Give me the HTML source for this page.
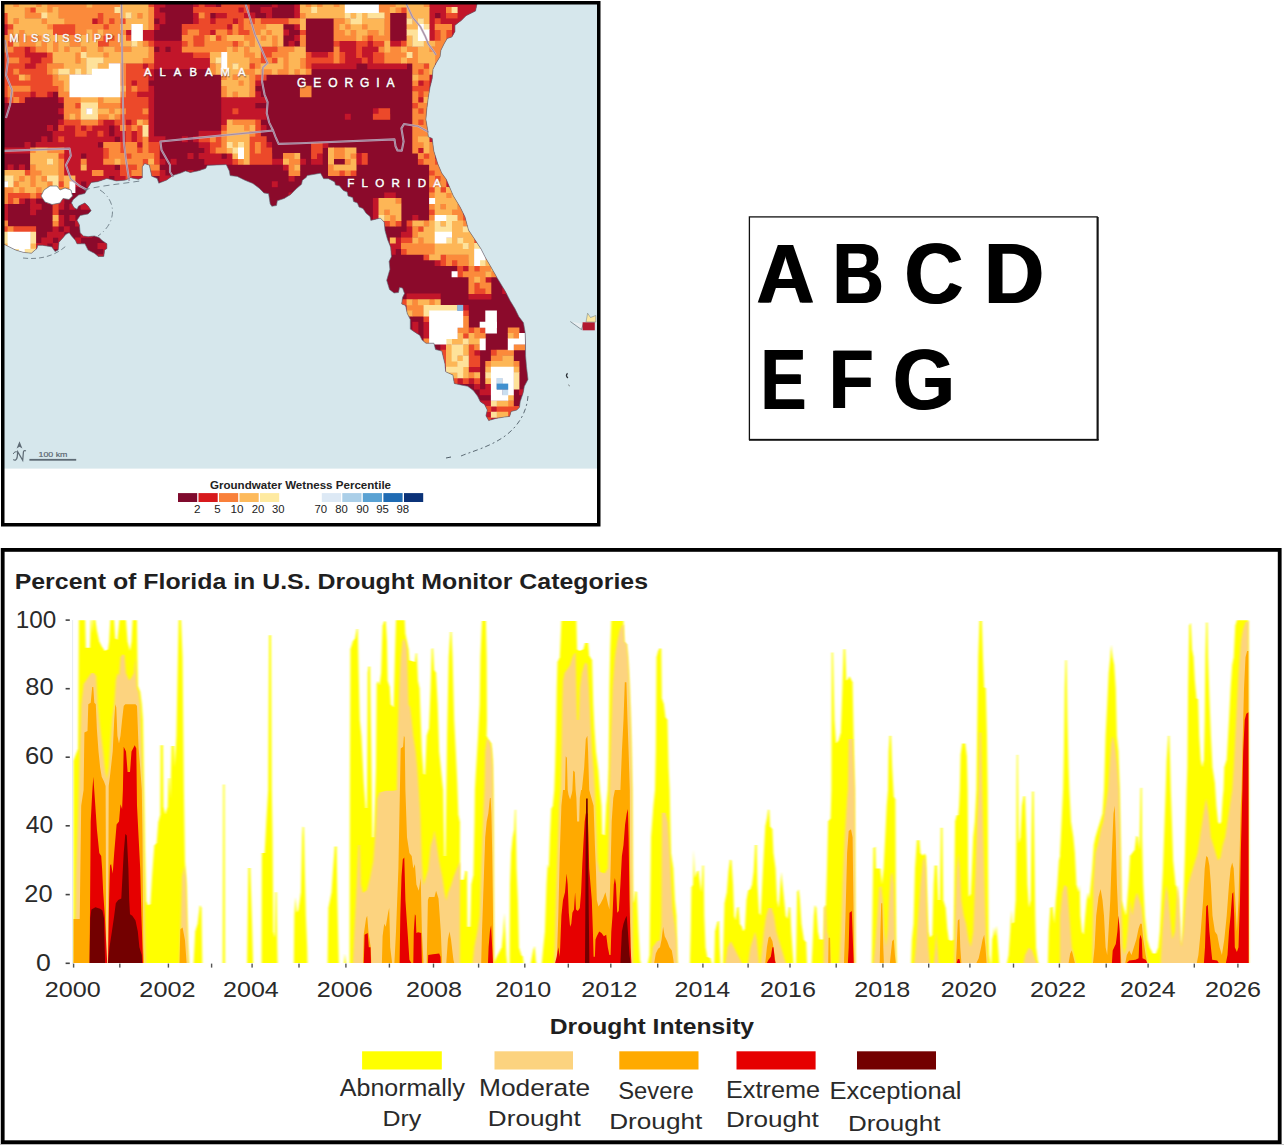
<!DOCTYPE html>
<html><head><meta charset="utf-8"><title>Florida drought</title>
<style>
html,body{margin:0;padding:0;background:#fff;}
body{width:1284px;height:1145px;overflow:hidden;font-family:"Liberation Sans", sans-serif;}
svg{display:block;position:absolute;left:0;top:0;font-family:"Liberation Sans", sans-serif;}
</style></head><body>
<svg width="1284" height="1145" viewBox="0 0 1284 1145">
<rect x="3" y="3" width="595" height="466" fill="#d6e7ec"/>
<rect x="3" y="468.6" width="595" height="56" fill="#fff"/>
<clipPath id="land"><polygon points="3.0,3.0 477.0,4.0 475.5,11.0 466.0,15.7 461.3,20.4 455.0,25.2 455.0,31.4 451.9,36.9 447.2,38.5 444.0,44.0 440.9,50.3 440.1,56.6 436.2,62.9 433.0,69.2 432.2,78.6 429.9,88.0 428.3,97.5 426.7,110.0 425.9,119.5 427.5,128.9 428.3,136.8 432.2,138.4 433.8,150.9 437.7,163.5 441.7,173.0 446.2,179.2 453.3,195.8 460.4,207.5 465.0,217.0 468.5,230.0 474.8,239.4 481.0,248.9 485.8,258.3 490.5,266.2 496.8,277.2 501.5,285.0 506.2,292.9 510.2,300.8 514.9,308.6 518.8,316.5 523.5,322.8 525.1,332.2 525.5,343.2 525.6,355.8 526.5,366.8 528.0,379.4 524.4,386.3 523.0,393.3 520.2,401.7 519.5,407.3 516.7,410.1 511.1,411.5 509.7,416.4 504.1,417.1 495.7,418.5 488.7,420.6 485.9,415.7 487.3,410.1 484.5,404.5 480.3,401.7 477.5,396.1 473.3,390.5 467.7,386.3 460.7,384.9 454.3,383.5 452.9,375.0 446.6,372.2 445.7,371.5 444.9,363.6 441.8,351.1 435.5,349.5 433.9,343.2 426.0,343.2 422.1,340.1 419.7,335.3 415.0,332.2 410.3,329.1 410.3,319.6 407.2,313.3 405.6,305.5 401.7,303.9 402.5,297.6 404.5,293.5 402.5,288.0 399.5,287.5 398.5,292.5 394.0,293.0 389.5,289.5 386.7,280.3 389.9,269.3 389.1,261.4 391.4,256.7 390.7,247.3 387.5,239.4 385.0,230.6 384.2,222.0 380.3,218.1 370.8,220.4 370.0,216.5 366.1,213.3 363.0,208.6 359.0,207.0 357.4,203.1 353.5,201.5 352.7,197.6 348.0,196.0 347.2,192.1 343.3,190.5 339.4,185.8 335.4,185.0 334.7,181.9 328.4,178.7 323.6,178.7 320.5,173.2 307.1,175.6 306.4,177.2 302.4,180.3 301.6,184.2 296.9,188.2 290.6,194.5 284.3,198.4 277.3,200.8 276.5,205.5 271.8,206.3 270.2,203.9 268.6,193.7 263.9,192.9 259.2,188.2 252.9,183.5 245.0,180.3 237.2,176.4 230.1,175.6 229.3,170.9 226.2,164.6 207.3,165.4 205.7,168.5 197.9,170.9 190.3,172.5 185.5,171.0 180.8,173.0 173.0,175.4 169.8,177.7 166.7,180.1 158.8,183.2 157.2,178.5 151.7,176.2 149.4,165.2 144.7,163.6 142.3,166.7 142.3,177.7 138.4,179.3 130.5,177.7 125.8,180.1 116.4,180.9 106.9,178.5 97.5,181.7 91.2,182.5 88.1,187.2 84.9,193.5 78.6,195.0 73.1,199.7 71.5,202.9 73.9,207.6 77.0,209.2 78.6,206.0 84.9,202.9 88.1,206.0 91.2,210.8 88.1,213.9 80.2,215.5 77.0,220.2 79.4,224.9 80.2,232.8 83.3,235.9 88.1,236.7 94.3,235.9 99.1,237.5 102.2,240.6 106.9,243.8 106.9,248.5 104.6,250.1 103.8,256.4 98.3,256.4 94.3,253.2 88.1,250.1 84.9,243.8 77.0,243.8 75.5,240.6 71.5,235.9 69.2,232.8 66.0,234.3 59.0,242.2 58.2,250.1 55.0,251.6 51.9,246.9 42.5,245.3 37.7,245.3 36.9,248.5 31.4,253.2 23.6,252.4 15.7,250.1 9.4,246.9 3.0,243.8"/></clipPath>
<polygon points="3.0,3.0 477.0,4.0 475.5,11.0 466.0,15.7 461.3,20.4 455.0,25.2 455.0,31.4 451.9,36.9 447.2,38.5 444.0,44.0 440.9,50.3 440.1,56.6 436.2,62.9 433.0,69.2 432.2,78.6 429.9,88.0 428.3,97.5 426.7,110.0 425.9,119.5 427.5,128.9 428.3,136.8 432.2,138.4 433.8,150.9 437.7,163.5 441.7,173.0 446.2,179.2 453.3,195.8 460.4,207.5 465.0,217.0 468.5,230.0 474.8,239.4 481.0,248.9 485.8,258.3 490.5,266.2 496.8,277.2 501.5,285.0 506.2,292.9 510.2,300.8 514.9,308.6 518.8,316.5 523.5,322.8 525.1,332.2 525.5,343.2 525.6,355.8 526.5,366.8 528.0,379.4 524.4,386.3 523.0,393.3 520.2,401.7 519.5,407.3 516.7,410.1 511.1,411.5 509.7,416.4 504.1,417.1 495.7,418.5 488.7,420.6 485.9,415.7 487.3,410.1 484.5,404.5 480.3,401.7 477.5,396.1 473.3,390.5 467.7,386.3 460.7,384.9 454.3,383.5 452.9,375.0 446.6,372.2 445.7,371.5 444.9,363.6 441.8,351.1 435.5,349.5 433.9,343.2 426.0,343.2 422.1,340.1 419.7,335.3 415.0,332.2 410.3,329.1 410.3,319.6 407.2,313.3 405.6,305.5 401.7,303.9 402.5,297.6 404.5,293.5 402.5,288.0 399.5,287.5 398.5,292.5 394.0,293.0 389.5,289.5 386.7,280.3 389.9,269.3 389.1,261.4 391.4,256.7 390.7,247.3 387.5,239.4 385.0,230.6 384.2,222.0 380.3,218.1 370.8,220.4 370.0,216.5 366.1,213.3 363.0,208.6 359.0,207.0 357.4,203.1 353.5,201.5 352.7,197.6 348.0,196.0 347.2,192.1 343.3,190.5 339.4,185.8 335.4,185.0 334.7,181.9 328.4,178.7 323.6,178.7 320.5,173.2 307.1,175.6 306.4,177.2 302.4,180.3 301.6,184.2 296.9,188.2 290.6,194.5 284.3,198.4 277.3,200.8 276.5,205.5 271.8,206.3 270.2,203.9 268.6,193.7 263.9,192.9 259.2,188.2 252.9,183.5 245.0,180.3 237.2,176.4 230.1,175.6 229.3,170.9 226.2,164.6 207.3,165.4 205.7,168.5 197.9,170.9 190.3,172.5 185.5,171.0 180.8,173.0 173.0,175.4 169.8,177.7 166.7,180.1 158.8,183.2 157.2,178.5 151.7,176.2 149.4,165.2 144.7,163.6 142.3,166.7 142.3,177.7 138.4,179.3 130.5,177.7 125.8,180.1 116.4,180.9 106.9,178.5 97.5,181.7 91.2,182.5 88.1,187.2 84.9,193.5 78.6,195.0 73.1,199.7 71.5,202.9 73.9,207.6 77.0,209.2 78.6,206.0 84.9,202.9 88.1,206.0 91.2,210.8 88.1,213.9 80.2,215.5 77.0,220.2 79.4,224.9 80.2,232.8 83.3,235.9 88.1,236.7 94.3,235.9 99.1,237.5 102.2,240.6 106.9,243.8 106.9,248.5 104.6,250.1 103.8,256.4 98.3,256.4 94.3,253.2 88.1,250.1 84.9,243.8 77.0,243.8 75.5,240.6 71.5,235.9 69.2,232.8 66.0,234.3 59.0,242.2 58.2,250.1 55.0,251.6 51.9,246.9 42.5,245.3 37.7,245.3 36.9,248.5 31.4,253.2 23.6,252.4 15.7,250.1 9.4,246.9 3.0,243.8" fill="#8b0a2b"/>
<filter id="soft" x="-2%" y="-2%" width="104%" height="104%"><feGaussianBlur stdDeviation="0.55"/></filter>
<g clip-path="url(#land)" filter="url(#soft)">
<path d="M153.7 1.4h11.6v6.0h-11.6zM193.1 1.4h6.0v6.0h-6.0zM204.3 1.4h11.6v6.0h-11.6zM271.8 1.4h6.0v6.0h-6.0zM294.2 1.4h6.0v6.0h-6.0zM429.1 1.4h51.0v6.0h-51.0zM153.7 7.0h6.0v6.0h-6.0zM238.0 7.0h6.0v6.0h-6.0zM260.5 7.0h11.6v6.0h-11.6zM294.2 7.0h6.0v6.0h-6.0zM429.1 7.0h17.3v6.0h-17.3zM457.2 7.0h22.9v6.0h-22.9zM153.7 12.6h11.6v6.0h-11.6zM193.1 12.6h6.0v6.0h-6.0zM215.6 12.6h11.6v6.0h-11.6zM243.7 12.6h11.6v6.0h-11.6zM266.1 12.6h6.0v6.0h-6.0zM294.2 12.6h6.0v6.0h-6.0zM429.1 12.6h6.0v6.0h-6.0zM440.4 12.6h6.0v6.0h-6.0zM457.2 12.6h22.9v6.0h-22.9zM91.9 18.3h6.0v6.0h-6.0zM159.4 18.3h6.0v6.0h-6.0zM193.1 18.3h6.0v6.0h-6.0zM209.9 18.3h6.0v6.0h-6.0zM232.4 18.3h6.0v6.0h-6.0zM429.1 18.3h6.0v6.0h-6.0zM440.4 18.3h39.7v6.0h-39.7zM2.0 23.9h6.0v6.0h-6.0zM153.7 23.9h6.0v6.0h-6.0zM226.8 23.9h6.0v6.0h-6.0zM294.2 23.9h6.0v6.0h-6.0zM429.1 23.9h6.0v6.0h-6.0zM451.6 23.9h28.5v6.0h-28.5zM2.0 29.5h6.0v6.0h-6.0zM125.6 29.5h6.0v6.0h-6.0zM142.5 29.5h11.6v6.0h-11.6zM209.9 29.5h6.0v6.0h-6.0zM283.0 29.5h6.0v6.0h-6.0zM429.1 29.5h6.0v6.0h-6.0zM451.6 29.5h28.5v6.0h-28.5zM142.5 35.1h11.6v6.0h-11.6zM294.2 35.1h6.0v6.0h-6.0zM429.1 35.1h6.0v6.0h-6.0zM451.6 35.1h28.5v6.0h-28.5zM153.7 40.7h28.5v6.0h-28.5zM288.6 40.7h6.0v6.0h-6.0zM339.2 40.7h17.3v6.0h-17.3zM367.3 40.7h6.0v6.0h-6.0zM389.8 40.7h11.6v6.0h-11.6zM24.5 46.4h6.0v6.0h-6.0zM159.4 46.4h6.0v6.0h-6.0zM170.6 46.4h11.6v6.0h-11.6zM339.2 46.4h17.3v6.0h-17.3zM361.7 46.4h17.3v6.0h-17.3zM24.5 52.0h22.9v6.0h-22.9zM153.7 52.0h39.7v6.0h-39.7zM311.1 52.0h17.3v6.0h-17.3zM344.8 52.0h11.6v6.0h-11.6zM361.7 52.0h11.6v6.0h-11.6zM30.1 57.6h11.6v6.0h-11.6zM153.7 57.6h56.6v6.0h-56.6zM344.8 57.6h17.3v6.0h-17.3zM367.3 57.6h6.0v6.0h-6.0zM24.5 63.2h11.6v6.0h-11.6zM142.5 63.2h6.0v6.0h-6.0zM153.7 63.2h56.6v6.0h-56.6zM311.1 63.2h45.4v6.0h-45.4zM367.3 63.2h39.7v6.0h-39.7zM434.7 63.2h6.0v6.0h-6.0zM148.1 68.8h6.0v6.0h-6.0zM434.7 68.8h6.0v6.0h-6.0zM148.1 74.5h6.0v6.0h-6.0zM429.1 74.5h6.0v6.0h-6.0zM131.3 80.1h6.0v6.0h-6.0zM254.9 80.1h6.0v6.0h-6.0zM417.9 80.1h6.0v6.0h-6.0zM429.1 80.1h6.0v6.0h-6.0zM148.1 85.7h6.0v6.0h-6.0zM30.1 91.3h6.0v6.0h-6.0zM47.0 91.3h6.0v6.0h-6.0zM136.9 91.3h17.3v6.0h-17.3zM254.9 91.3h6.0v6.0h-6.0zM429.1 91.3h6.0v6.0h-6.0zM2.0 96.9h6.0v6.0h-6.0zM58.2 96.9h6.0v6.0h-6.0zM148.1 96.9h6.0v6.0h-6.0zM221.2 96.9h45.4v6.0h-45.4zM417.9 96.9h6.0v6.0h-6.0zM429.1 96.9h6.0v6.0h-6.0zM148.1 102.6h6.0v6.0h-6.0zM221.2 102.6h34.1v6.0h-34.1zM58.2 108.2h6.0v6.0h-6.0zM148.1 108.2h6.0v6.0h-6.0zM221.2 108.2h11.6v6.0h-11.6zM238.0 108.2h28.5v6.0h-28.5zM372.9 108.2h6.0v6.0h-6.0zM429.1 108.2h6.0v6.0h-6.0zM148.1 113.8h6.0v6.0h-6.0zM221.2 113.8h45.4v6.0h-45.4zM344.8 113.8h6.0v6.0h-6.0zM429.1 113.8h6.0v6.0h-6.0zM58.2 119.4h6.0v6.0h-6.0zM103.2 119.4h11.6v6.0h-11.6zM125.6 119.4h6.0v6.0h-6.0zM148.1 119.4h6.0v6.0h-6.0zM221.2 119.4h6.0v6.0h-6.0zM429.1 119.4h6.0v6.0h-6.0zM47.0 125.0h6.0v6.0h-6.0zM63.8 125.0h11.6v6.0h-11.6zM80.7 125.0h6.0v6.0h-6.0zM91.9 125.0h17.3v6.0h-17.3zM114.4 125.0h6.0v6.0h-6.0zM148.1 125.0h6.0v6.0h-6.0zM260.5 125.0h6.0v6.0h-6.0zM429.1 125.0h6.0v6.0h-6.0zM52.6 130.7h22.9v6.0h-22.9zM86.3 130.7h11.6v6.0h-11.6zM103.2 130.7h6.0v6.0h-6.0zM114.4 130.7h11.6v6.0h-11.6zM131.3 130.7h6.0v6.0h-6.0zM148.1 130.7h6.0v6.0h-6.0zM198.7 130.7h22.9v6.0h-22.9zM41.3 136.3h6.0v6.0h-6.0zM52.6 136.3h6.0v6.0h-6.0zM63.8 136.3h51.0v6.0h-51.0zM120.0 136.3h6.0v6.0h-6.0zM131.3 136.3h6.0v6.0h-6.0zM148.1 136.3h17.3v6.0h-17.3zM181.8 136.3h6.0v6.0h-6.0zM193.1 136.3h6.0v6.0h-6.0zM429.1 136.3h6.0v6.0h-6.0zM24.5 141.9h6.0v6.0h-6.0zM35.7 141.9h62.2v6.0h-62.2zM136.9 141.9h6.0v6.0h-6.0zM198.7 141.9h11.6v6.0h-11.6zM266.1 141.9h6.0v6.0h-6.0zM322.3 141.9h6.0v6.0h-6.0zM2.0 147.5h28.5v6.0h-28.5zM63.8 147.5h39.7v6.0h-39.7zM204.3 147.5h6.0v6.0h-6.0zM417.9 147.5h6.0v6.0h-6.0zM63.8 153.1h17.3v6.0h-17.3zM86.3 153.1h17.3v6.0h-17.3zM187.5 153.1h6.0v6.0h-6.0zM198.7 153.1h22.9v6.0h-22.9zM226.8 153.1h6.0v6.0h-6.0zM316.7 153.1h6.0v6.0h-6.0zM356.1 153.1h6.0v6.0h-6.0zM434.7 153.1h6.0v6.0h-6.0zM63.8 158.8h17.3v6.0h-17.3zM86.3 158.8h17.3v6.0h-17.3zM159.4 158.8h6.0v6.0h-6.0zM170.6 158.8h6.0v6.0h-6.0zM204.3 158.8h28.5v6.0h-28.5zM271.8 158.8h11.6v6.0h-11.6zM299.9 158.8h6.0v6.0h-6.0zM311.1 158.8h11.6v6.0h-11.6zM356.1 158.8h6.0v6.0h-6.0zM446.0 158.8h6.0v6.0h-6.0zM7.6 164.4h6.0v6.0h-6.0zM18.9 164.4h6.0v6.0h-6.0zM63.8 164.4h17.3v6.0h-17.3zM86.3 164.4h28.5v6.0h-28.5zM283.0 164.4h6.0v6.0h-6.0zM446.0 164.4h6.0v6.0h-6.0zM63.8 170.0h28.5v6.0h-28.5zM103.2 170.0h17.3v6.0h-17.3zM159.4 170.0h6.0v6.0h-6.0zM187.5 170.0h6.0v6.0h-6.0zM198.7 170.0h28.5v6.0h-28.5zM75.1 175.6h34.1v6.0h-34.1zM114.4 175.6h11.6v6.0h-11.6zM131.3 175.6h17.3v6.0h-17.3zM159.4 175.6h45.4v6.0h-45.4zM288.6 175.6h6.0v6.0h-6.0zM446.0 175.6h6.0v6.0h-6.0zM75.1 181.2h6.0v6.0h-6.0zM86.3 181.2h6.0v6.0h-6.0zM103.2 181.2h28.5v6.0h-28.5zM136.9 181.2h6.0v6.0h-6.0zM271.8 181.2h6.0v6.0h-6.0zM446.0 181.2h6.0v6.0h-6.0zM226.8 186.9h17.3v6.0h-17.3zM47.0 192.5h6.0v6.0h-6.0zM288.6 192.5h6.0v6.0h-6.0zM384.2 192.5h11.6v6.0h-11.6zM18.9 198.1h6.0v6.0h-6.0zM30.1 198.1h6.0v6.0h-6.0zM47.0 198.1h17.3v6.0h-17.3zM80.7 198.1h6.0v6.0h-6.0zM91.9 198.1h17.3v6.0h-17.3zM372.9 198.1h6.0v6.0h-6.0zM462.8 198.1h6.0v6.0h-6.0zM2.0 203.7h6.0v6.0h-6.0zM30.1 203.7h11.6v6.0h-11.6zM58.2 203.7h6.0v6.0h-6.0zM69.4 203.7h6.0v6.0h-6.0zM80.7 203.7h11.6v6.0h-11.6zM97.5 203.7h11.6v6.0h-11.6zM372.9 203.7h6.0v6.0h-6.0zM462.8 203.7h6.0v6.0h-6.0zM2.0 209.3h6.0v6.0h-6.0zM30.1 209.3h6.0v6.0h-6.0zM103.2 209.3h6.0v6.0h-6.0zM372.9 209.3h6.0v6.0h-6.0zM462.8 209.3h6.0v6.0h-6.0zM2.0 215.0h6.0v6.0h-6.0zM58.2 215.0h6.0v6.0h-6.0zM69.4 215.0h6.0v6.0h-6.0zM91.9 215.0h6.0v6.0h-6.0zM103.2 215.0h6.0v6.0h-6.0zM372.9 215.0h6.0v6.0h-6.0zM412.3 215.0h6.0v6.0h-6.0zM468.5 215.0h6.0v6.0h-6.0zM58.2 220.6h6.0v6.0h-6.0zM75.1 220.6h17.3v6.0h-17.3zM97.5 220.6h6.0v6.0h-6.0zM372.9 220.6h6.0v6.0h-6.0zM52.6 226.2h6.0v6.0h-6.0zM63.8 226.2h6.0v6.0h-6.0zM97.5 226.2h11.6v6.0h-11.6zM406.6 226.2h6.0v6.0h-6.0zM474.1 226.2h6.0v6.0h-6.0zM47.0 231.8h17.3v6.0h-17.3zM80.7 231.8h11.6v6.0h-11.6zM401.0 231.8h11.6v6.0h-11.6zM479.7 231.8h6.0v6.0h-6.0zM41.3 237.4h11.6v6.0h-11.6zM58.2 237.4h6.0v6.0h-6.0zM75.1 237.4h6.0v6.0h-6.0zM395.4 237.4h6.0v6.0h-6.0zM479.7 237.4h6.0v6.0h-6.0zM490.9 237.4h6.0v6.0h-6.0zM35.7 243.1h11.6v6.0h-11.6zM52.6 243.1h6.0v6.0h-6.0zM75.1 243.1h6.0v6.0h-6.0zM97.5 243.1h11.6v6.0h-11.6zM389.8 243.1h11.6v6.0h-11.6zM35.7 248.7h6.0v6.0h-6.0zM47.0 248.7h6.0v6.0h-6.0zM63.8 248.7h6.0v6.0h-6.0zM80.7 248.7h6.0v6.0h-6.0zM103.2 248.7h6.0v6.0h-6.0zM389.8 248.7h6.0v6.0h-6.0zM496.6 248.7h6.0v6.0h-6.0zM13.2 254.3h17.3v6.0h-17.3zM63.8 254.3h6.0v6.0h-6.0zM80.7 254.3h6.0v6.0h-6.0zM97.5 254.3h6.0v6.0h-6.0zM496.6 254.3h6.0v6.0h-6.0zM434.7 259.9h6.0v6.0h-6.0zM462.8 265.5h6.0v6.0h-6.0zM496.6 265.5h6.0v6.0h-6.0zM485.3 276.8h6.0v6.0h-6.0zM502.2 288.0h6.0v6.0h-6.0zM406.6 293.6h34.1v6.0h-34.1zM468.5 293.6h22.9v6.0h-22.9zM401.0 304.9h6.0v6.0h-6.0zM462.8 304.9h6.0v6.0h-6.0zM401.0 310.5h6.0v6.0h-6.0zM401.0 316.1h6.0v6.0h-6.0zM412.3 321.7h6.0v6.0h-6.0zM423.5 321.7h6.0v6.0h-6.0zM412.3 327.4h6.0v6.0h-6.0zM423.5 327.4h6.0v6.0h-6.0zM401.0 333.0h17.3v6.0h-17.3zM423.5 333.0h6.0v6.0h-6.0zM440.4 344.2h6.0v6.0h-6.0zM474.1 349.8h6.0v6.0h-6.0zM440.4 366.7h6.0v6.0h-6.0zM468.5 366.7h11.6v6.0h-11.6zM440.4 372.3h6.0v6.0h-6.0zM446.0 377.9h6.0v6.0h-6.0zM457.2 377.9h6.0v6.0h-6.0zM468.5 377.9h6.0v6.0h-6.0zM474.1 383.6h6.0v6.0h-6.0zM485.3 383.6h6.0v6.0h-6.0zM479.7 389.2h11.6v6.0h-11.6zM519.0 389.2h6.0v6.0h-6.0zM479.7 400.4h11.6v6.0h-11.6zM479.7 406.0h6.0v6.0h-6.0zM490.9 406.0h6.0v6.0h-6.0zM485.3 411.7h6.0v6.0h-6.0zM513.4 411.7h6.0v6.0h-6.0zM490.9 417.3h6.0v6.0h-6.0zM502.2 417.3h6.0v6.0h-6.0z" fill="#c2142c"/>
<path d="M148.1 1.4h6.0v6.0h-6.0zM198.7 1.4h6.0v6.0h-6.0zM221.2 1.4h28.5v6.0h-28.5zM30.1 7.0h6.0v6.0h-6.0zM193.1 7.0h45.4v6.0h-45.4zM243.7 7.0h6.0v6.0h-6.0zM401.0 7.0h6.0v6.0h-6.0zM2.0 12.6h6.0v6.0h-6.0zM97.5 12.6h6.0v6.0h-6.0zM204.3 12.6h6.0v6.0h-6.0zM226.8 12.6h17.3v6.0h-17.3zM446.0 12.6h11.6v6.0h-11.6zM2.0 18.3h6.0v6.0h-6.0zM97.5 18.3h6.0v6.0h-6.0zM108.8 18.3h6.0v6.0h-6.0zM120.0 18.3h6.0v6.0h-6.0zM198.7 18.3h11.6v6.0h-11.6zM215.6 18.3h17.3v6.0h-17.3zM238.0 18.3h6.0v6.0h-6.0zM249.3 18.3h6.0v6.0h-6.0zM260.5 18.3h28.5v6.0h-28.5zM434.7 18.3h6.0v6.0h-6.0zM7.6 23.9h6.0v6.0h-6.0zM52.6 23.9h22.9v6.0h-22.9zM103.2 23.9h6.0v6.0h-6.0zM181.8 23.9h45.4v6.0h-45.4zM238.0 23.9h6.0v6.0h-6.0zM52.6 29.5h22.9v6.0h-22.9zM181.8 29.5h6.0v6.0h-6.0zM198.7 29.5h11.6v6.0h-11.6zM226.8 29.5h6.0v6.0h-6.0zM238.0 29.5h11.6v6.0h-11.6zM299.9 29.5h6.0v6.0h-6.0zM434.7 29.5h6.0v6.0h-6.0zM446.0 29.5h6.0v6.0h-6.0zM103.2 35.1h11.6v6.0h-11.6zM125.6 35.1h6.0v6.0h-6.0zM193.1 35.1h11.6v6.0h-11.6zM215.6 35.1h6.0v6.0h-6.0zM367.3 35.1h6.0v6.0h-6.0zM434.7 35.1h6.0v6.0h-6.0zM446.0 35.1h6.0v6.0h-6.0zM7.6 40.7h6.0v6.0h-6.0zM97.5 40.7h11.6v6.0h-11.6zM148.1 40.7h6.0v6.0h-6.0zM181.8 40.7h6.0v6.0h-6.0zM193.1 40.7h11.6v6.0h-11.6zM232.4 40.7h6.0v6.0h-6.0zM333.6 40.7h6.0v6.0h-6.0zM356.1 40.7h11.6v6.0h-11.6zM372.9 40.7h11.6v6.0h-11.6zM401.0 40.7h6.0v6.0h-6.0zM457.2 40.7h6.0v6.0h-6.0zM13.2 46.4h11.6v6.0h-11.6zM30.1 46.4h6.0v6.0h-6.0zM260.5 46.4h17.3v6.0h-17.3zM356.1 46.4h6.0v6.0h-6.0zM2.0 52.0h22.9v6.0h-22.9zM47.0 52.0h6.0v6.0h-6.0zM193.1 52.0h17.3v6.0h-17.3zM260.5 52.0h11.6v6.0h-11.6zM305.5 52.0h6.0v6.0h-6.0zM328.0 52.0h6.0v6.0h-6.0zM339.2 52.0h6.0v6.0h-6.0zM356.1 52.0h6.0v6.0h-6.0zM372.9 52.0h11.6v6.0h-11.6zM2.0 57.6h6.0v6.0h-6.0zM18.9 57.6h11.6v6.0h-11.6zM41.3 57.6h11.6v6.0h-11.6zM260.5 57.6h6.0v6.0h-6.0zM271.8 57.6h6.0v6.0h-6.0zM305.5 57.6h28.5v6.0h-28.5zM339.2 57.6h6.0v6.0h-6.0zM361.7 57.6h6.0v6.0h-6.0zM372.9 57.6h11.6v6.0h-11.6zM2.0 63.2h22.9v6.0h-22.9zM35.7 63.2h11.6v6.0h-11.6zM125.6 63.2h17.3v6.0h-17.3zM148.1 63.2h6.0v6.0h-6.0zM249.3 63.2h6.0v6.0h-6.0zM305.5 63.2h6.0v6.0h-6.0zM423.5 63.2h6.0v6.0h-6.0zM2.0 68.8h11.6v6.0h-11.6zM18.9 68.8h28.5v6.0h-28.5zM125.6 68.8h22.9v6.0h-22.9zM417.9 68.8h6.0v6.0h-6.0zM2.0 74.5h17.3v6.0h-17.3zM30.1 74.5h22.9v6.0h-22.9zM125.6 74.5h22.9v6.0h-22.9zM254.9 74.5h11.6v6.0h-11.6zM2.0 80.1h51.0v6.0h-51.0zM125.6 80.1h6.0v6.0h-6.0zM136.9 80.1h11.6v6.0h-11.6zM423.5 80.1h6.0v6.0h-6.0zM2.0 85.7h6.0v6.0h-6.0zM30.1 85.7h28.5v6.0h-28.5zM125.6 85.7h6.0v6.0h-6.0zM136.9 85.7h11.6v6.0h-11.6zM412.3 85.7h17.3v6.0h-17.3zM2.0 91.3h6.0v6.0h-6.0zM13.2 91.3h17.3v6.0h-17.3zM35.7 91.3h11.6v6.0h-11.6zM125.6 91.3h11.6v6.0h-11.6zM417.9 91.3h6.0v6.0h-6.0zM7.6 96.9h6.0v6.0h-6.0zM18.9 96.9h6.0v6.0h-6.0zM120.0 96.9h28.5v6.0h-28.5zM75.1 102.6h6.0v6.0h-6.0zM120.0 102.6h28.5v6.0h-28.5zM412.3 102.6h6.0v6.0h-6.0zM125.6 108.2h17.3v6.0h-17.3zM232.4 108.2h6.0v6.0h-6.0zM378.5 108.2h11.6v6.0h-11.6zM417.9 108.2h6.0v6.0h-6.0zM120.0 113.8h28.5v6.0h-28.5zM372.9 113.8h17.3v6.0h-17.3zM63.8 119.4h17.3v6.0h-17.3zM97.5 119.4h6.0v6.0h-6.0zM114.4 119.4h11.6v6.0h-11.6zM131.3 119.4h6.0v6.0h-6.0zM254.9 119.4h6.0v6.0h-6.0zM417.9 119.4h6.0v6.0h-6.0zM58.2 125.0h6.0v6.0h-6.0zM75.1 125.0h6.0v6.0h-6.0zM86.3 125.0h6.0v6.0h-6.0zM125.6 125.0h6.0v6.0h-6.0zM136.9 125.0h6.0v6.0h-6.0zM221.2 125.0h6.0v6.0h-6.0zM254.9 125.0h6.0v6.0h-6.0zM75.1 130.7h11.6v6.0h-11.6zM97.5 130.7h6.0v6.0h-6.0zM125.6 130.7h6.0v6.0h-6.0zM136.9 130.7h6.0v6.0h-6.0zM254.9 130.7h6.0v6.0h-6.0zM58.2 136.3h6.0v6.0h-6.0zM125.6 136.3h6.0v6.0h-6.0zM136.9 136.3h6.0v6.0h-6.0zM198.7 136.3h11.6v6.0h-11.6zM215.6 136.3h6.0v6.0h-6.0zM249.3 136.3h17.3v6.0h-17.3zM120.0 141.9h6.0v6.0h-6.0zM148.1 141.9h11.6v6.0h-11.6zM209.9 141.9h11.6v6.0h-11.6zM249.3 141.9h6.0v6.0h-6.0zM260.5 141.9h6.0v6.0h-6.0zM311.1 141.9h11.6v6.0h-11.6zM103.2 147.5h6.0v6.0h-6.0zM120.0 147.5h6.0v6.0h-6.0zM136.9 147.5h6.0v6.0h-6.0zM148.1 147.5h11.6v6.0h-11.6zM209.9 147.5h6.0v6.0h-6.0zM249.3 147.5h6.0v6.0h-6.0zM260.5 147.5h11.6v6.0h-11.6zM311.1 147.5h11.6v6.0h-11.6zM58.2 153.1h6.0v6.0h-6.0zM103.2 153.1h6.0v6.0h-6.0zM125.6 153.1h6.0v6.0h-6.0zM153.7 153.1h6.0v6.0h-6.0zM249.3 153.1h22.9v6.0h-22.9zM311.1 153.1h6.0v6.0h-6.0zM361.7 153.1h6.0v6.0h-6.0zM423.5 153.1h6.0v6.0h-6.0zM142.5 158.8h6.0v6.0h-6.0zM153.7 158.8h6.0v6.0h-6.0zM232.4 158.8h6.0v6.0h-6.0zM249.3 158.8h22.9v6.0h-22.9zM361.7 158.8h6.0v6.0h-6.0zM417.9 158.8h6.0v6.0h-6.0zM434.7 158.8h6.0v6.0h-6.0zM120.0 164.4h17.3v6.0h-17.3zM142.5 164.4h6.0v6.0h-6.0zM24.5 170.0h6.0v6.0h-6.0zM120.0 170.0h11.6v6.0h-11.6zM142.5 170.0h17.3v6.0h-17.3zM339.2 170.0h6.0v6.0h-6.0zM350.4 170.0h6.0v6.0h-6.0zM429.1 170.0h6.0v6.0h-6.0zM125.6 175.6h6.0v6.0h-6.0zM434.7 175.6h6.0v6.0h-6.0zM58.2 181.2h6.0v6.0h-6.0zM429.1 186.9h6.0v6.0h-6.0zM440.4 186.9h6.0v6.0h-6.0zM7.6 192.5h22.9v6.0h-22.9zM35.7 192.5h11.6v6.0h-11.6zM7.6 198.1h6.0v6.0h-6.0zM52.6 203.7h6.0v6.0h-6.0zM52.6 209.3h6.0v6.0h-6.0zM429.1 209.3h6.0v6.0h-6.0zM462.8 215.0h6.0v6.0h-6.0zM378.5 220.6h11.6v6.0h-11.6zM395.4 220.6h6.0v6.0h-6.0zM406.6 220.6h6.0v6.0h-6.0zM2.0 226.2h6.0v6.0h-6.0zM13.2 226.2h22.9v6.0h-22.9zM417.9 226.2h6.0v6.0h-6.0zM474.1 231.8h6.0v6.0h-6.0zM401.0 237.4h11.6v6.0h-11.6zM474.1 237.4h6.0v6.0h-6.0zM401.0 248.7h6.0v6.0h-6.0zM423.5 254.3h6.0v6.0h-6.0zM440.4 254.3h6.0v6.0h-6.0zM440.4 259.9h6.0v6.0h-6.0zM451.6 259.9h6.0v6.0h-6.0zM457.2 265.5h6.0v6.0h-6.0zM474.1 265.5h6.0v6.0h-6.0zM457.2 271.2h6.0v6.0h-6.0zM496.6 271.2h6.0v6.0h-6.0zM474.1 282.4h6.0v6.0h-6.0zM474.1 288.0h11.6v6.0h-11.6zM401.0 299.3h6.0v6.0h-6.0zM462.8 310.5h6.0v6.0h-6.0zM423.5 316.1h6.0v6.0h-6.0zM468.5 327.4h6.0v6.0h-6.0zM479.7 327.4h6.0v6.0h-6.0zM462.8 333.0h6.0v6.0h-6.0zM468.5 344.2h6.0v6.0h-6.0zM440.4 349.8h6.0v6.0h-6.0zM468.5 349.8h6.0v6.0h-6.0zM490.9 349.8h6.0v6.0h-6.0zM440.4 355.5h6.0v6.0h-6.0zM468.5 355.5h11.6v6.0h-11.6zM440.4 361.1h6.0v6.0h-6.0zM468.5 361.1h11.6v6.0h-11.6zM451.6 377.9h6.0v6.0h-6.0zM462.8 377.9h6.0v6.0h-6.0zM474.1 377.9h6.0v6.0h-6.0zM485.3 406.0h6.0v6.0h-6.0zM496.6 406.0h22.9v6.0h-22.9zM507.8 411.7h6.0v6.0h-6.0zM485.3 417.3h6.0v6.0h-6.0zM496.6 417.3h6.0v6.0h-6.0zM507.8 417.3h6.0v6.0h-6.0z" fill="#ec4a29"/>
<path d="M13.2 1.4h6.0v6.0h-6.0zM35.7 1.4h6.0v6.0h-6.0zM47.0 1.4h39.7v6.0h-39.7zM91.9 1.4h28.5v6.0h-28.5zM305.5 1.4h6.0v6.0h-6.0zM316.7 1.4h6.0v6.0h-6.0zM333.6 1.4h6.0v6.0h-6.0zM378.5 1.4h17.3v6.0h-17.3zM423.5 1.4h6.0v6.0h-6.0zM24.5 7.0h6.0v6.0h-6.0zM47.0 7.0h6.0v6.0h-6.0zM58.2 7.0h56.6v6.0h-56.6zM148.1 7.0h6.0v6.0h-6.0zM378.5 7.0h11.6v6.0h-11.6zM395.4 7.0h6.0v6.0h-6.0zM446.0 7.0h6.0v6.0h-6.0zM24.5 12.6h17.3v6.0h-17.3zM58.2 12.6h39.7v6.0h-39.7zM103.2 12.6h17.3v6.0h-17.3zM136.9 12.6h6.0v6.0h-6.0zM148.1 12.6h6.0v6.0h-6.0zM198.7 12.6h6.0v6.0h-6.0zM299.9 12.6h6.0v6.0h-6.0zM384.2 12.6h6.0v6.0h-6.0zM13.2 18.3h6.0v6.0h-6.0zM41.3 18.3h6.0v6.0h-6.0zM63.8 18.3h28.5v6.0h-28.5zM103.2 18.3h6.0v6.0h-6.0zM114.4 18.3h6.0v6.0h-6.0zM148.1 18.3h6.0v6.0h-6.0zM243.7 18.3h6.0v6.0h-6.0zM254.9 18.3h6.0v6.0h-6.0zM288.6 18.3h11.6v6.0h-11.6zM333.6 18.3h11.6v6.0h-11.6zM384.2 18.3h6.0v6.0h-6.0zM47.0 23.9h6.0v6.0h-6.0zM75.1 23.9h28.5v6.0h-28.5zM108.8 23.9h11.6v6.0h-11.6zM148.1 23.9h6.0v6.0h-6.0zM232.4 23.9h6.0v6.0h-6.0zM243.7 23.9h22.9v6.0h-22.9zM333.6 23.9h6.0v6.0h-6.0zM344.8 23.9h6.0v6.0h-6.0zM361.7 23.9h6.0v6.0h-6.0zM384.2 23.9h6.0v6.0h-6.0zM434.7 23.9h17.3v6.0h-17.3zM7.6 29.5h6.0v6.0h-6.0zM18.9 29.5h6.0v6.0h-6.0zM75.1 29.5h11.6v6.0h-11.6zM91.9 29.5h6.0v6.0h-6.0zM103.2 29.5h22.9v6.0h-22.9zM187.5 29.5h11.6v6.0h-11.6zM215.6 29.5h11.6v6.0h-11.6zM232.4 29.5h6.0v6.0h-6.0zM249.3 29.5h11.6v6.0h-11.6zM266.1 29.5h6.0v6.0h-6.0zM333.6 29.5h11.6v6.0h-11.6zM350.4 29.5h6.0v6.0h-6.0zM367.3 29.5h11.6v6.0h-11.6zM384.2 29.5h6.0v6.0h-6.0zM440.4 29.5h6.0v6.0h-6.0zM2.0 35.1h39.7v6.0h-39.7zM63.8 35.1h17.3v6.0h-17.3zM91.9 35.1h11.6v6.0h-11.6zM114.4 35.1h6.0v6.0h-6.0zM181.8 35.1h11.6v6.0h-11.6zM204.3 35.1h6.0v6.0h-6.0zM221.2 35.1h6.0v6.0h-6.0zM243.7 35.1h11.6v6.0h-11.6zM260.5 35.1h6.0v6.0h-6.0zM271.8 35.1h6.0v6.0h-6.0zM299.9 35.1h6.0v6.0h-6.0zM333.6 35.1h22.9v6.0h-22.9zM361.7 35.1h6.0v6.0h-6.0zM372.9 35.1h17.3v6.0h-17.3zM440.4 35.1h6.0v6.0h-6.0zM2.0 40.7h6.0v6.0h-6.0zM18.9 40.7h17.3v6.0h-17.3zM41.3 40.7h6.0v6.0h-6.0zM52.6 40.7h6.0v6.0h-6.0zM69.4 40.7h11.6v6.0h-11.6zM108.8 40.7h11.6v6.0h-11.6zM142.5 40.7h6.0v6.0h-6.0zM187.5 40.7h6.0v6.0h-6.0zM204.3 40.7h28.5v6.0h-28.5zM238.0 40.7h6.0v6.0h-6.0zM249.3 40.7h6.0v6.0h-6.0zM271.8 40.7h6.0v6.0h-6.0zM299.9 40.7h6.0v6.0h-6.0zM434.7 40.7h22.9v6.0h-22.9zM462.8 40.7h17.3v6.0h-17.3zM2.0 46.4h11.6v6.0h-11.6zM35.7 46.4h11.6v6.0h-11.6zM52.6 46.4h6.0v6.0h-6.0zM63.8 46.4h6.0v6.0h-6.0zM80.7 46.4h6.0v6.0h-6.0zM97.5 46.4h6.0v6.0h-6.0zM114.4 46.4h17.3v6.0h-17.3zM148.1 46.4h6.0v6.0h-6.0zM181.8 46.4h45.4v6.0h-45.4zM232.4 46.4h6.0v6.0h-6.0zM243.7 46.4h6.0v6.0h-6.0zM277.4 46.4h17.3v6.0h-17.3zM333.6 46.4h6.0v6.0h-6.0zM378.5 46.4h6.0v6.0h-6.0zM389.8 46.4h11.6v6.0h-11.6zM406.6 46.4h11.6v6.0h-11.6zM429.1 46.4h45.4v6.0h-45.4zM75.1 52.0h6.0v6.0h-6.0zM103.2 52.0h6.0v6.0h-6.0zM148.1 52.0h6.0v6.0h-6.0zM243.7 52.0h11.6v6.0h-11.6zM271.8 52.0h17.3v6.0h-17.3zM333.6 52.0h6.0v6.0h-6.0zM384.2 52.0h22.9v6.0h-22.9zM412.3 52.0h6.0v6.0h-6.0zM434.7 52.0h6.0v6.0h-6.0zM446.0 52.0h6.0v6.0h-6.0zM457.2 52.0h6.0v6.0h-6.0zM468.5 52.0h11.6v6.0h-11.6zM7.6 57.6h11.6v6.0h-11.6zM75.1 57.6h6.0v6.0h-6.0zM142.5 57.6h11.6v6.0h-11.6zM249.3 57.6h11.6v6.0h-11.6zM266.1 57.6h6.0v6.0h-6.0zM283.0 57.6h6.0v6.0h-6.0zM299.9 57.6h6.0v6.0h-6.0zM333.6 57.6h6.0v6.0h-6.0zM384.2 57.6h17.3v6.0h-17.3zM406.6 57.6h11.6v6.0h-11.6zM434.7 57.6h45.4v6.0h-45.4zM47.0 63.2h17.3v6.0h-17.3zM120.0 63.2h6.0v6.0h-6.0zM209.9 63.2h6.0v6.0h-6.0zM254.9 63.2h6.0v6.0h-6.0zM283.0 63.2h6.0v6.0h-6.0zM299.9 63.2h6.0v6.0h-6.0zM412.3 63.2h11.6v6.0h-11.6zM13.2 68.8h6.0v6.0h-6.0zM47.0 68.8h6.0v6.0h-6.0zM120.0 68.8h6.0v6.0h-6.0zM209.9 68.8h6.0v6.0h-6.0zM243.7 68.8h11.6v6.0h-11.6zM260.5 68.8h11.6v6.0h-11.6zM277.4 68.8h11.6v6.0h-11.6zM294.2 68.8h6.0v6.0h-6.0zM305.5 68.8h6.0v6.0h-6.0zM412.3 68.8h6.0v6.0h-6.0zM423.5 68.8h6.0v6.0h-6.0zM24.5 74.5h6.0v6.0h-6.0zM52.6 74.5h6.0v6.0h-6.0zM120.0 74.5h6.0v6.0h-6.0zM221.2 74.5h6.0v6.0h-6.0zM232.4 74.5h6.0v6.0h-6.0zM249.3 74.5h6.0v6.0h-6.0zM417.9 74.5h11.6v6.0h-11.6zM52.6 80.1h11.6v6.0h-11.6zM120.0 80.1h6.0v6.0h-6.0zM238.0 80.1h6.0v6.0h-6.0zM249.3 80.1h6.0v6.0h-6.0zM412.3 80.1h6.0v6.0h-6.0zM7.6 85.7h22.9v6.0h-22.9zM58.2 85.7h6.0v6.0h-6.0zM131.3 85.7h6.0v6.0h-6.0zM221.2 85.7h6.0v6.0h-6.0zM249.3 85.7h6.0v6.0h-6.0zM299.9 85.7h11.6v6.0h-11.6zM7.6 91.3h6.0v6.0h-6.0zM58.2 91.3h11.6v6.0h-11.6zM120.0 91.3h6.0v6.0h-6.0zM221.2 91.3h6.0v6.0h-6.0zM232.4 91.3h6.0v6.0h-6.0zM249.3 91.3h6.0v6.0h-6.0zM299.9 91.3h11.6v6.0h-11.6zM412.3 91.3h6.0v6.0h-6.0zM423.5 91.3h6.0v6.0h-6.0zM13.2 96.9h6.0v6.0h-6.0zM63.8 96.9h17.3v6.0h-17.3zM97.5 96.9h6.0v6.0h-6.0zM412.3 96.9h6.0v6.0h-6.0zM63.8 102.6h11.6v6.0h-11.6zM97.5 102.6h22.9v6.0h-22.9zM417.9 102.6h11.6v6.0h-11.6zM63.8 108.2h17.3v6.0h-17.3zM108.8 108.2h6.0v6.0h-6.0zM120.0 108.2h6.0v6.0h-6.0zM142.5 108.2h6.0v6.0h-6.0zM412.3 108.2h6.0v6.0h-6.0zM423.5 108.2h6.0v6.0h-6.0zM63.8 113.8h6.0v6.0h-6.0zM75.1 113.8h6.0v6.0h-6.0zM97.5 113.8h11.6v6.0h-11.6zM114.4 113.8h6.0v6.0h-6.0zM412.3 113.8h17.3v6.0h-17.3zM80.7 119.4h17.3v6.0h-17.3zM142.5 119.4h6.0v6.0h-6.0zM232.4 119.4h22.9v6.0h-22.9zM412.3 119.4h6.0v6.0h-6.0zM423.5 119.4h6.0v6.0h-6.0zM120.0 125.0h6.0v6.0h-6.0zM131.3 125.0h6.0v6.0h-6.0zM243.7 125.0h6.0v6.0h-6.0zM412.3 125.0h17.3v6.0h-17.3zM221.2 130.7h6.0v6.0h-6.0zM249.3 130.7h6.0v6.0h-6.0zM412.3 130.7h17.3v6.0h-17.3zM142.5 136.3h6.0v6.0h-6.0zM209.9 136.3h6.0v6.0h-6.0zM221.2 136.3h6.0v6.0h-6.0zM412.3 136.3h6.0v6.0h-6.0zM103.2 141.9h17.3v6.0h-17.3zM125.6 141.9h11.6v6.0h-11.6zM142.5 141.9h6.0v6.0h-6.0zM221.2 141.9h6.0v6.0h-6.0zM254.9 141.9h6.0v6.0h-6.0zM412.3 141.9h11.6v6.0h-11.6zM429.1 141.9h6.0v6.0h-6.0zM30.1 147.5h6.0v6.0h-6.0zM47.0 147.5h17.3v6.0h-17.3zM108.8 147.5h11.6v6.0h-11.6zM125.6 147.5h11.6v6.0h-11.6zM142.5 147.5h6.0v6.0h-6.0zM215.6 147.5h11.6v6.0h-11.6zM254.9 147.5h6.0v6.0h-6.0zM333.6 147.5h11.6v6.0h-11.6zM412.3 147.5h6.0v6.0h-6.0zM429.1 147.5h6.0v6.0h-6.0zM108.8 153.1h17.3v6.0h-17.3zM131.3 153.1h22.9v6.0h-22.9zM283.0 153.1h11.6v6.0h-11.6zM333.6 153.1h11.6v6.0h-11.6zM350.4 153.1h6.0v6.0h-6.0zM417.9 153.1h6.0v6.0h-6.0zM429.1 153.1h6.0v6.0h-6.0zM440.4 153.1h6.0v6.0h-6.0zM58.2 158.8h6.0v6.0h-6.0zM80.7 158.8h6.0v6.0h-6.0zM103.2 158.8h11.6v6.0h-11.6zM120.0 158.8h22.9v6.0h-22.9zM238.0 158.8h6.0v6.0h-6.0zM288.6 158.8h11.6v6.0h-11.6zM344.8 158.8h6.0v6.0h-6.0zM423.5 158.8h11.6v6.0h-11.6zM440.4 158.8h6.0v6.0h-6.0zM30.1 164.4h6.0v6.0h-6.0zM58.2 164.4h6.0v6.0h-6.0zM136.9 164.4h6.0v6.0h-6.0zM148.1 164.4h11.6v6.0h-11.6zM288.6 164.4h6.0v6.0h-6.0zM328.0 164.4h6.0v6.0h-6.0zM429.1 164.4h17.3v6.0h-17.3zM30.1 170.0h11.6v6.0h-11.6zM58.2 170.0h6.0v6.0h-6.0zM91.9 170.0h11.6v6.0h-11.6zM131.3 170.0h11.6v6.0h-11.6zM288.6 170.0h11.6v6.0h-11.6zM328.0 170.0h11.6v6.0h-11.6zM344.8 170.0h6.0v6.0h-6.0zM434.7 170.0h11.6v6.0h-11.6zM18.9 175.6h6.0v6.0h-6.0zM30.1 175.6h6.0v6.0h-6.0zM41.3 175.6h6.0v6.0h-6.0zM58.2 175.6h6.0v6.0h-6.0zM429.1 175.6h6.0v6.0h-6.0zM440.4 175.6h6.0v6.0h-6.0zM13.2 181.2h6.0v6.0h-6.0zM30.1 181.2h6.0v6.0h-6.0zM47.0 181.2h6.0v6.0h-6.0zM429.1 181.2h17.3v6.0h-17.3zM2.0 186.9h11.6v6.0h-11.6zM18.9 186.9h6.0v6.0h-6.0zM35.7 186.9h6.0v6.0h-6.0zM47.0 186.9h22.9v6.0h-22.9zM2.0 192.5h6.0v6.0h-6.0zM30.1 192.5h6.0v6.0h-6.0zM429.1 192.5h6.0v6.0h-6.0zM446.0 192.5h6.0v6.0h-6.0zM457.2 192.5h6.0v6.0h-6.0zM2.0 198.1h6.0v6.0h-6.0zM13.2 198.1h6.0v6.0h-6.0zM395.4 198.1h6.0v6.0h-6.0zM429.1 203.7h6.0v6.0h-6.0zM440.4 203.7h6.0v6.0h-6.0zM457.2 203.7h6.0v6.0h-6.0zM384.2 209.3h6.0v6.0h-6.0zM451.6 209.3h11.6v6.0h-11.6zM389.8 215.0h6.0v6.0h-6.0zM429.1 215.0h6.0v6.0h-6.0zM457.2 215.0h6.0v6.0h-6.0zM2.0 220.6h6.0v6.0h-6.0zM52.6 220.6h6.0v6.0h-6.0zM389.8 220.6h6.0v6.0h-6.0zM423.5 220.6h6.0v6.0h-6.0zM462.8 220.6h11.6v6.0h-11.6zM7.6 226.2h6.0v6.0h-6.0zM412.3 226.2h6.0v6.0h-6.0zM412.3 231.8h6.0v6.0h-6.0zM417.9 237.4h6.0v6.0h-6.0zM401.0 243.1h34.1v6.0h-34.1zM406.6 248.7h28.5v6.0h-28.5zM446.0 254.3h22.9v6.0h-22.9zM485.3 254.3h6.0v6.0h-6.0zM446.0 259.9h6.0v6.0h-6.0zM457.2 259.9h11.6v6.0h-11.6zM468.5 265.5h6.0v6.0h-6.0zM479.7 265.5h11.6v6.0h-11.6zM462.8 271.2h22.9v6.0h-22.9zM490.9 271.2h6.0v6.0h-6.0zM468.5 276.8h6.0v6.0h-6.0zM479.7 276.8h6.0v6.0h-6.0zM468.5 282.4h6.0v6.0h-6.0zM479.7 282.4h11.6v6.0h-11.6zM468.5 288.0h6.0v6.0h-6.0zM485.3 288.0h6.0v6.0h-6.0zM412.3 299.3h6.0v6.0h-6.0zM429.1 299.3h6.0v6.0h-6.0zM406.6 304.9h17.3v6.0h-17.3zM412.3 310.5h11.6v6.0h-11.6zM462.8 316.1h6.0v6.0h-6.0zM462.8 321.7h6.0v6.0h-6.0zM457.2 327.4h11.6v6.0h-11.6zM474.1 327.4h6.0v6.0h-6.0zM507.8 327.4h11.6v6.0h-11.6zM474.1 333.0h11.6v6.0h-11.6zM513.4 333.0h6.0v6.0h-6.0zM423.5 338.6h6.0v6.0h-6.0zM474.1 344.2h6.0v6.0h-6.0zM513.4 344.2h11.6v6.0h-11.6zM496.6 349.8h17.3v6.0h-17.3zM490.9 355.5h11.6v6.0h-11.6zM485.3 361.1h6.0v6.0h-6.0zM513.4 361.1h6.0v6.0h-6.0zM468.5 372.3h6.0v6.0h-6.0zM507.8 400.4h6.0v6.0h-6.0z" fill="#fb8a3a"/>
<path d="M2.0 1.4h11.6v6.0h-11.6zM18.9 1.4h17.3v6.0h-17.3zM41.3 1.4h6.0v6.0h-6.0zM86.3 1.4h6.0v6.0h-6.0zM120.0 1.4h28.5v6.0h-28.5zM299.9 1.4h6.0v6.0h-6.0zM311.1 1.4h6.0v6.0h-6.0zM322.3 1.4h11.6v6.0h-11.6zM339.2 1.4h6.0v6.0h-6.0zM395.4 1.4h28.5v6.0h-28.5zM2.0 7.0h22.9v6.0h-22.9zM35.7 7.0h11.6v6.0h-11.6zM52.6 7.0h6.0v6.0h-6.0zM120.0 7.0h28.5v6.0h-28.5zM299.9 7.0h11.6v6.0h-11.6zM316.7 7.0h28.5v6.0h-28.5zM389.8 7.0h6.0v6.0h-6.0zM406.6 7.0h22.9v6.0h-22.9zM7.6 12.6h17.3v6.0h-17.3zM47.0 12.6h11.6v6.0h-11.6zM120.0 12.6h6.0v6.0h-6.0zM131.3 12.6h6.0v6.0h-6.0zM142.5 12.6h6.0v6.0h-6.0zM305.5 12.6h39.7v6.0h-39.7zM350.4 12.6h6.0v6.0h-6.0zM361.7 12.6h6.0v6.0h-6.0zM406.6 12.6h22.9v6.0h-22.9zM7.6 18.3h6.0v6.0h-6.0zM18.9 18.3h22.9v6.0h-22.9zM47.0 18.3h17.3v6.0h-17.3zM125.6 18.3h22.9v6.0h-22.9zM299.9 18.3h6.0v6.0h-6.0zM344.8 18.3h6.0v6.0h-6.0zM361.7 18.3h22.9v6.0h-22.9zM412.3 18.3h6.0v6.0h-6.0zM423.5 18.3h6.0v6.0h-6.0zM13.2 23.9h34.1v6.0h-34.1zM120.0 23.9h11.6v6.0h-11.6zM142.5 23.9h6.0v6.0h-6.0zM266.1 23.9h17.3v6.0h-17.3zM299.9 23.9h6.0v6.0h-6.0zM339.2 23.9h6.0v6.0h-6.0zM350.4 23.9h11.6v6.0h-11.6zM367.3 23.9h17.3v6.0h-17.3zM406.6 23.9h11.6v6.0h-11.6zM13.2 29.5h6.0v6.0h-6.0zM24.5 29.5h28.5v6.0h-28.5zM86.3 29.5h6.0v6.0h-6.0zM97.5 29.5h6.0v6.0h-6.0zM260.5 29.5h6.0v6.0h-6.0zM271.8 29.5h11.6v6.0h-11.6zM344.8 29.5h6.0v6.0h-6.0zM356.1 29.5h11.6v6.0h-11.6zM378.5 29.5h6.0v6.0h-6.0zM41.3 35.1h22.9v6.0h-22.9zM80.7 35.1h11.6v6.0h-11.6zM120.0 35.1h6.0v6.0h-6.0zM209.9 35.1h6.0v6.0h-6.0zM226.8 35.1h17.3v6.0h-17.3zM254.9 35.1h6.0v6.0h-6.0zM266.1 35.1h6.0v6.0h-6.0zM277.4 35.1h6.0v6.0h-6.0zM356.1 35.1h6.0v6.0h-6.0zM406.6 35.1h6.0v6.0h-6.0zM13.2 40.7h6.0v6.0h-6.0zM35.7 40.7h6.0v6.0h-6.0zM47.0 40.7h6.0v6.0h-6.0zM58.2 40.7h11.6v6.0h-11.6zM80.7 40.7h17.3v6.0h-17.3zM120.0 40.7h11.6v6.0h-11.6zM136.9 40.7h6.0v6.0h-6.0zM243.7 40.7h6.0v6.0h-6.0zM254.9 40.7h17.3v6.0h-17.3zM277.4 40.7h6.0v6.0h-6.0zM384.2 40.7h6.0v6.0h-6.0zM406.6 40.7h6.0v6.0h-6.0zM423.5 40.7h11.6v6.0h-11.6zM47.0 46.4h6.0v6.0h-6.0zM58.2 46.4h6.0v6.0h-6.0zM69.4 46.4h11.6v6.0h-11.6zM86.3 46.4h11.6v6.0h-11.6zM103.2 46.4h11.6v6.0h-11.6zM131.3 46.4h17.3v6.0h-17.3zM226.8 46.4h6.0v6.0h-6.0zM238.0 46.4h6.0v6.0h-6.0zM249.3 46.4h11.6v6.0h-11.6zM294.2 46.4h11.6v6.0h-11.6zM384.2 46.4h6.0v6.0h-6.0zM401.0 46.4h6.0v6.0h-6.0zM417.9 46.4h11.6v6.0h-11.6zM474.1 46.4h6.0v6.0h-6.0zM52.6 52.0h22.9v6.0h-22.9zM86.3 52.0h17.3v6.0h-17.3zM108.8 52.0h39.7v6.0h-39.7zM209.9 52.0h11.6v6.0h-11.6zM226.8 52.0h17.3v6.0h-17.3zM254.9 52.0h6.0v6.0h-6.0zM288.6 52.0h17.3v6.0h-17.3zM417.9 52.0h17.3v6.0h-17.3zM440.4 52.0h6.0v6.0h-6.0zM451.6 52.0h6.0v6.0h-6.0zM462.8 52.0h6.0v6.0h-6.0zM52.6 57.6h22.9v6.0h-22.9zM80.7 57.6h6.0v6.0h-6.0zM103.2 57.6h39.7v6.0h-39.7zM209.9 57.6h6.0v6.0h-6.0zM226.8 57.6h22.9v6.0h-22.9zM277.4 57.6h6.0v6.0h-6.0zM288.6 57.6h11.6v6.0h-11.6zM401.0 57.6h6.0v6.0h-6.0zM417.9 57.6h17.3v6.0h-17.3zM63.8 63.2h22.9v6.0h-22.9zM97.5 63.2h11.6v6.0h-11.6zM215.6 63.2h6.0v6.0h-6.0zM226.8 63.2h6.0v6.0h-6.0zM238.0 63.2h11.6v6.0h-11.6zM260.5 63.2h22.9v6.0h-22.9zM288.6 63.2h11.6v6.0h-11.6zM429.1 63.2h6.0v6.0h-6.0zM52.6 68.8h6.0v6.0h-6.0zM69.4 68.8h6.0v6.0h-6.0zM80.7 68.8h6.0v6.0h-6.0zM215.6 68.8h28.5v6.0h-28.5zM254.9 68.8h6.0v6.0h-6.0zM271.8 68.8h6.0v6.0h-6.0zM288.6 68.8h6.0v6.0h-6.0zM299.9 68.8h6.0v6.0h-6.0zM429.1 68.8h6.0v6.0h-6.0zM18.9 74.5h6.0v6.0h-6.0zM58.2 74.5h11.6v6.0h-11.6zM226.8 74.5h6.0v6.0h-6.0zM238.0 74.5h11.6v6.0h-11.6zM412.3 74.5h6.0v6.0h-6.0zM63.8 80.1h6.0v6.0h-6.0zM221.2 80.1h17.3v6.0h-17.3zM243.7 80.1h6.0v6.0h-6.0zM63.8 85.7h6.0v6.0h-6.0zM120.0 85.7h6.0v6.0h-6.0zM226.8 85.7h22.9v6.0h-22.9zM226.8 91.3h6.0v6.0h-6.0zM238.0 91.3h11.6v6.0h-11.6zM80.7 96.9h17.3v6.0h-17.3zM103.2 96.9h17.3v6.0h-17.3zM423.5 96.9h6.0v6.0h-6.0zM97.5 108.2h11.6v6.0h-11.6zM114.4 108.2h6.0v6.0h-6.0zM69.4 113.8h6.0v6.0h-6.0zM108.8 113.8h6.0v6.0h-6.0zM136.9 119.4h6.0v6.0h-6.0zM226.8 119.4h6.0v6.0h-6.0zM226.8 125.0h17.3v6.0h-17.3zM249.3 125.0h6.0v6.0h-6.0zM226.8 130.7h22.9v6.0h-22.9zM429.1 130.7h6.0v6.0h-6.0zM226.8 136.3h22.9v6.0h-22.9zM417.9 136.3h11.6v6.0h-11.6zM232.4 141.9h6.0v6.0h-6.0zM243.7 141.9h6.0v6.0h-6.0zM423.5 141.9h6.0v6.0h-6.0zM35.7 147.5h11.6v6.0h-11.6zM226.8 147.5h6.0v6.0h-6.0zM243.7 147.5h6.0v6.0h-6.0zM328.0 147.5h6.0v6.0h-6.0zM344.8 147.5h11.6v6.0h-11.6zM423.5 147.5h6.0v6.0h-6.0zM30.1 153.1h28.5v6.0h-28.5zM232.4 153.1h6.0v6.0h-6.0zM243.7 153.1h6.0v6.0h-6.0zM294.2 153.1h6.0v6.0h-6.0zM328.0 153.1h6.0v6.0h-6.0zM344.8 153.1h6.0v6.0h-6.0zM30.1 158.8h17.3v6.0h-17.3zM52.6 158.8h6.0v6.0h-6.0zM114.4 158.8h6.0v6.0h-6.0zM148.1 158.8h6.0v6.0h-6.0zM243.7 158.8h6.0v6.0h-6.0zM283.0 158.8h6.0v6.0h-6.0zM328.0 158.8h6.0v6.0h-6.0zM350.4 158.8h6.0v6.0h-6.0zM35.7 164.4h22.9v6.0h-22.9zM80.7 164.4h6.0v6.0h-6.0zM294.2 164.4h6.0v6.0h-6.0zM333.6 164.4h22.9v6.0h-22.9zM2.0 170.0h22.9v6.0h-22.9zM41.3 170.0h17.3v6.0h-17.3zM13.2 175.6h6.0v6.0h-6.0zM24.5 175.6h6.0v6.0h-6.0zM35.7 175.6h6.0v6.0h-6.0zM63.8 175.6h11.6v6.0h-11.6zM18.9 181.2h11.6v6.0h-11.6zM35.7 181.2h11.6v6.0h-11.6zM63.8 181.2h6.0v6.0h-6.0zM13.2 186.9h6.0v6.0h-6.0zM24.5 186.9h11.6v6.0h-11.6zM41.3 186.9h6.0v6.0h-6.0zM434.7 186.9h6.0v6.0h-6.0zM446.0 186.9h17.3v6.0h-17.3zM434.7 192.5h11.6v6.0h-11.6zM451.6 192.5h6.0v6.0h-6.0zM378.5 198.1h17.3v6.0h-17.3zM434.7 198.1h28.5v6.0h-28.5zM378.5 203.7h22.9v6.0h-22.9zM434.7 203.7h6.0v6.0h-6.0zM446.0 203.7h11.6v6.0h-11.6zM378.5 209.3h6.0v6.0h-6.0zM389.8 209.3h11.6v6.0h-11.6zM434.7 209.3h17.3v6.0h-17.3zM52.6 215.0h6.0v6.0h-6.0zM384.2 215.0h6.0v6.0h-6.0zM395.4 215.0h6.0v6.0h-6.0zM412.3 220.6h11.6v6.0h-11.6zM429.1 220.6h6.0v6.0h-6.0zM440.4 220.6h6.0v6.0h-6.0zM451.6 220.6h11.6v6.0h-11.6zM423.5 226.2h11.6v6.0h-11.6zM451.6 226.2h11.6v6.0h-11.6zM468.5 226.2h6.0v6.0h-6.0zM417.9 231.8h17.3v6.0h-17.3zM451.6 231.8h22.9v6.0h-22.9zM389.8 237.4h6.0v6.0h-6.0zM412.3 237.4h6.0v6.0h-6.0zM423.5 237.4h11.6v6.0h-11.6zM451.6 237.4h6.0v6.0h-6.0zM462.8 237.4h11.6v6.0h-11.6zM2.0 243.1h6.0v6.0h-6.0zM30.1 243.1h6.0v6.0h-6.0zM434.7 243.1h28.5v6.0h-28.5zM468.5 243.1h6.0v6.0h-6.0zM485.3 243.1h11.6v6.0h-11.6zM2.0 248.7h6.0v6.0h-6.0zM434.7 248.7h39.7v6.0h-39.7zM485.3 248.7h11.6v6.0h-11.6zM429.1 254.3h11.6v6.0h-11.6zM468.5 254.3h6.0v6.0h-6.0zM490.9 254.3h6.0v6.0h-6.0zM468.5 259.9h6.0v6.0h-6.0zM485.3 259.9h11.6v6.0h-11.6zM490.9 265.5h6.0v6.0h-6.0zM485.3 271.2h6.0v6.0h-6.0zM474.1 276.8h6.0v6.0h-6.0zM406.6 299.3h6.0v6.0h-6.0zM417.9 299.3h11.6v6.0h-11.6zM434.7 299.3h6.0v6.0h-6.0zM406.6 310.5h6.0v6.0h-6.0zM457.2 333.0h6.0v6.0h-6.0zM468.5 333.0h6.0v6.0h-6.0zM507.8 333.0h6.0v6.0h-6.0zM451.6 338.6h11.6v6.0h-11.6zM468.5 338.6h11.6v6.0h-11.6zM446.0 344.2h6.0v6.0h-6.0zM462.8 344.2h6.0v6.0h-6.0zM446.0 349.8h6.0v6.0h-6.0zM462.8 349.8h6.0v6.0h-6.0zM446.0 355.5h6.0v6.0h-6.0zM457.2 355.5h6.0v6.0h-6.0zM502.2 355.5h11.6v6.0h-11.6zM446.0 361.1h11.6v6.0h-11.6zM490.9 361.1h22.9v6.0h-22.9zM462.8 366.7h6.0v6.0h-6.0zM485.3 366.7h6.0v6.0h-6.0zM513.4 366.7h6.0v6.0h-6.0zM446.0 372.3h11.6v6.0h-11.6zM462.8 372.3h6.0v6.0h-6.0zM474.1 372.3h6.0v6.0h-6.0zM485.3 377.9h6.0v6.0h-6.0zM507.8 394.8h6.0v6.0h-6.0zM496.6 400.4h11.6v6.0h-11.6zM496.6 411.7h11.6v6.0h-11.6z" fill="#fdb657"/>
<path d="M114.4 7.0h6.0v6.0h-6.0zM311.1 7.0h6.0v6.0h-6.0zM451.6 7.0h6.0v6.0h-6.0zM41.3 12.6h6.0v6.0h-6.0zM125.6 12.6h6.0v6.0h-6.0zM344.8 12.6h6.0v6.0h-6.0zM356.1 12.6h6.0v6.0h-6.0zM367.3 12.6h17.3v6.0h-17.3zM350.4 18.3h11.6v6.0h-11.6zM406.6 18.3h6.0v6.0h-6.0zM417.9 18.3h6.0v6.0h-6.0zM423.5 23.9h6.0v6.0h-6.0zM406.6 29.5h11.6v6.0h-11.6zM412.3 35.1h6.0v6.0h-6.0zM131.3 40.7h6.0v6.0h-6.0zM412.3 40.7h11.6v6.0h-11.6zM80.7 52.0h6.0v6.0h-6.0zM406.6 52.0h6.0v6.0h-6.0zM86.3 57.6h17.3v6.0h-17.3zM215.6 57.6h6.0v6.0h-6.0zM86.3 63.2h11.6v6.0h-11.6zM232.4 63.2h6.0v6.0h-6.0zM58.2 68.8h11.6v6.0h-11.6zM75.1 68.8h6.0v6.0h-6.0zM86.3 68.8h6.0v6.0h-6.0zM80.7 102.6h17.3v6.0h-17.3zM80.7 108.2h6.0v6.0h-6.0zM91.9 108.2h6.0v6.0h-6.0zM80.7 113.8h17.3v6.0h-17.3zM142.5 125.0h6.0v6.0h-6.0zM142.5 130.7h6.0v6.0h-6.0zM226.8 141.9h6.0v6.0h-6.0zM238.0 141.9h6.0v6.0h-6.0zM232.4 147.5h6.0v6.0h-6.0zM47.0 158.8h6.0v6.0h-6.0zM2.0 175.6h11.6v6.0h-11.6zM47.0 175.6h11.6v6.0h-11.6zM7.6 181.2h6.0v6.0h-6.0zM52.6 181.2h6.0v6.0h-6.0zM378.5 215.0h6.0v6.0h-6.0zM446.0 215.0h11.6v6.0h-11.6zM434.7 220.6h6.0v6.0h-6.0zM446.0 220.6h6.0v6.0h-6.0zM434.7 226.2h17.3v6.0h-17.3zM462.8 226.2h6.0v6.0h-6.0zM2.0 231.8h6.0v6.0h-6.0zM30.1 231.8h6.0v6.0h-6.0zM2.0 237.4h6.0v6.0h-6.0zM30.1 237.4h6.0v6.0h-6.0zM446.0 237.4h6.0v6.0h-6.0zM457.2 237.4h6.0v6.0h-6.0zM462.8 243.1h6.0v6.0h-6.0zM474.1 243.1h11.6v6.0h-11.6zM7.6 248.7h11.6v6.0h-11.6zM24.5 248.7h11.6v6.0h-11.6zM479.7 259.9h6.0v6.0h-6.0zM423.5 304.9h34.1v6.0h-34.1zM423.5 310.5h6.0v6.0h-6.0zM446.0 338.6h6.0v6.0h-6.0zM462.8 338.6h6.0v6.0h-6.0zM451.6 344.2h11.6v6.0h-11.6zM451.6 349.8h11.6v6.0h-11.6zM451.6 355.5h6.0v6.0h-6.0zM462.8 355.5h6.0v6.0h-6.0zM457.2 361.1h11.6v6.0h-11.6zM446.0 366.7h17.3v6.0h-17.3zM457.2 372.3h6.0v6.0h-6.0zM485.3 372.3h6.0v6.0h-6.0zM513.4 372.3h6.0v6.0h-6.0zM513.4 377.9h6.0v6.0h-6.0zM513.4 383.6h6.0v6.0h-6.0zM490.9 400.4h6.0v6.0h-6.0zM490.9 411.7h6.0v6.0h-6.0z" fill="#fee29a"/>
<path d="M344.8 1.4h34.1v6.0h-34.1zM344.8 7.0h34.1v6.0h-34.1zM131.3 23.9h11.6v6.0h-11.6zM417.9 23.9h6.0v6.0h-6.0zM131.3 29.5h11.6v6.0h-11.6zM417.9 29.5h11.6v6.0h-11.6zM131.3 35.1h11.6v6.0h-11.6zM417.9 35.1h11.6v6.0h-11.6zM221.2 52.0h6.0v6.0h-6.0zM221.2 57.6h6.0v6.0h-6.0zM108.8 63.2h11.6v6.0h-11.6zM221.2 63.2h6.0v6.0h-6.0zM91.9 68.8h28.5v6.0h-28.5zM69.4 74.5h51.0v6.0h-51.0zM69.4 80.1h51.0v6.0h-51.0zM69.4 85.7h51.0v6.0h-51.0zM69.4 91.3h51.0v6.0h-51.0zM86.3 108.2h6.0v6.0h-6.0zM238.0 147.5h6.0v6.0h-6.0zM238.0 153.1h6.0v6.0h-6.0zM2.0 181.2h6.0v6.0h-6.0zM69.4 181.2h6.0v6.0h-6.0zM69.4 186.9h6.0v6.0h-6.0zM429.1 198.1h6.0v6.0h-6.0zM434.7 215.0h11.6v6.0h-11.6zM7.6 231.8h22.9v6.0h-22.9zM434.7 231.8h17.3v6.0h-17.3zM7.6 237.4h22.9v6.0h-22.9zM434.7 237.4h11.6v6.0h-11.6zM7.6 243.1h22.9v6.0h-22.9zM18.9 248.7h6.0v6.0h-6.0zM474.1 248.7h11.6v6.0h-11.6zM474.1 254.3h11.6v6.0h-11.6zM474.1 259.9h6.0v6.0h-6.0zM451.6 271.2h6.0v6.0h-6.0zM429.1 310.5h34.1v6.0h-34.1zM485.3 310.5h11.6v6.0h-11.6zM429.1 316.1h34.1v6.0h-34.1zM485.3 316.1h11.6v6.0h-11.6zM429.1 321.7h34.1v6.0h-34.1zM479.7 321.7h17.3v6.0h-17.3zM429.1 327.4h28.5v6.0h-28.5zM485.3 327.4h11.6v6.0h-11.6zM429.1 333.0h28.5v6.0h-28.5zM519.0 333.0h6.0v6.0h-6.0zM429.1 338.6h17.3v6.0h-17.3zM479.7 338.6h6.0v6.0h-6.0zM507.8 338.6h17.3v6.0h-17.3zM479.7 344.2h6.0v6.0h-6.0zM507.8 344.2h6.0v6.0h-6.0zM490.9 366.7h22.9v6.0h-22.9zM490.9 372.3h22.9v6.0h-22.9zM490.9 377.9h6.0v6.0h-6.0zM502.2 377.9h11.6v6.0h-11.6zM490.9 383.6h6.0v6.0h-6.0zM507.8 383.6h6.0v6.0h-6.0zM490.9 389.2h11.6v6.0h-11.6zM507.8 389.2h6.0v6.0h-6.0zM490.9 394.8h17.3v6.0h-17.3z" fill="#ffffff"/>
<path d="M496.6 377.9h6.0v6.0h-6.0zM502.2 389.2h6.0v6.0h-6.0z" fill="#c9def0"/>
<path d="M496.6 383.6h11.6v6.0h-11.6z" fill="#3f90cf"/>
<path d="M457.2 304.9h6.0v6.0h-6.0z" fill="#86b7e2"/>
</g>
<polygon points="41,196 44,190 50,186 57,186 60,190 65,188 71,190 72.5,196 69,199.5 63,198.5 60,203 52,204.5 45,202" fill="#fff" stroke="#5d6a72" stroke-width="0.7"/>
<polyline points="121.5,4.0 122.5,80.0 123.8,141.5 126.0,160.0 129.2,181.0" fill="none" stroke="#c3b3c6" stroke-width="2.1" stroke-linejoin="round" opacity="0.9"/>
<polyline points="121.5,4.0 122.5,80.0 123.8,141.5 126.0,160.0 129.2,181.0" fill="none" stroke="#8d6f86" stroke-width="0.6" stroke-linejoin="round"/>
<polyline points="245.6,4.0 250.3,18.9 255.0,34.6 261.3,48.7 266.0,59.7 267.6,62.9 262.9,67.6 262.1,81.8 264.5,94.3 267.6,102.2 266.8,113.2 269.2,122.6 273.1,130.5 275.5,136.8 278.6,143.9 300.0,143.2 394.5,139.4 395.5,146.2 397.5,150.5 401.8,150.6 403.6,141.5 401.4,128.4 404.0,124.0 417.9,126.2 428.5,132.0" fill="none" stroke="#c3b3c6" stroke-width="2.1" stroke-linejoin="round" opacity="0.9"/>
<polyline points="245.6,4.0 250.3,18.9 255.0,34.6 261.3,48.7 266.0,59.7 267.6,62.9 262.9,67.6 262.1,81.8 264.5,94.3 267.6,102.2 266.8,113.2 269.2,122.6 273.1,130.5 275.5,136.8 278.6,143.9 300.0,143.2 394.5,139.4 395.5,146.2 397.5,150.5 401.8,150.6 403.6,141.5 401.4,128.4 404.0,124.0 417.9,126.2 428.5,132.0" fill="none" stroke="#8d6f86" stroke-width="0.6" stroke-linejoin="round"/>
<polyline points="273.1,130.5 200.0,137.6 160.4,141.5 161.5,150.0 166.0,158.0 170.0,165.0 170.0,172.0 173.3,177.0" fill="none" stroke="#c3b3c6" stroke-width="2.1" stroke-linejoin="round" opacity="0.9"/>
<polyline points="273.1,130.5 200.0,137.6 160.4,141.5 161.5,150.0 166.0,158.0 170.0,165.0 170.0,172.0 173.3,177.0" fill="none" stroke="#8d6f86" stroke-width="0.6" stroke-linejoin="round"/>
<polyline points="3.0,150.9 69.6,148.6 70.8,155.7 66.0,165.1 70.8,179.2 80.2,186.3 87.3,190.0" fill="none" stroke="#c3b3c6" stroke-width="2.1" stroke-linejoin="round" opacity="0.9"/>
<polyline points="3.0,150.9 69.6,148.6 70.8,155.7 66.0,165.1 70.8,179.2 80.2,186.3 87.3,190.0" fill="none" stroke="#8d6f86" stroke-width="0.6" stroke-linejoin="round"/>
<polyline points="406.3,4.0 412.6,17.3 420.4,26.7 425.2,36.2 428.3,44.0 433.0,50.3 436.0,55.0" fill="none" stroke="#c3b3c6" stroke-width="2.1" stroke-linejoin="round" opacity="0.9"/>
<polyline points="406.3,4.0 412.6,17.3 420.4,26.7 425.2,36.2 428.3,44.0 433.0,50.3 436.0,55.0" fill="none" stroke="#8d6f86" stroke-width="0.6" stroke-linejoin="round"/>
<polyline points="5.0,40.0 8.0,60.0 6.0,75.0 12.0,90.0 10.0,105.0 6.0,118.0" fill="none" stroke="#c3b3c6" stroke-width="2.1" stroke-linejoin="round" opacity="0.9"/>
<polyline points="5.0,40.0 8.0,60.0 6.0,75.0 12.0,90.0 10.0,105.0 6.0,118.0" fill="none" stroke="#8d6f86" stroke-width="0.6" stroke-linejoin="round"/>
<polyline points="477.0,4.0 475.5,11.0 466.0,15.7 461.3,20.4 455.0,25.2 455.0,31.4 451.9,36.9 447.2,38.5 444.0,44.0 440.9,50.3 440.1,56.6 436.2,62.9 433.0,69.2 432.2,78.6 429.9,88.0 428.3,97.5 426.7,110.0 425.9,119.5 427.5,128.9 428.3,136.8 432.2,138.4 433.8,150.9 437.7,163.5 441.7,173.0 446.2,179.2 453.3,195.8 460.4,207.5 465.0,217.0 468.5,230.0 474.8,239.4 481.0,248.9 485.8,258.3 490.5,266.2 496.8,277.2 501.5,285.0 506.2,292.9 510.2,300.8 514.9,308.6 518.8,316.5 523.5,322.8 525.1,332.2 525.5,343.2 525.6,355.8 526.5,366.8 528.0,379.4 524.4,386.3 523.0,393.3 520.2,401.7 519.5,407.3 516.7,410.1 511.1,411.5 509.7,416.4 504.1,417.1 495.7,418.5 488.7,420.6 485.9,415.7 487.3,410.1 484.5,404.5 480.3,401.7 477.5,396.1 473.3,390.5 467.7,386.3 460.7,384.9 454.3,383.5 452.9,375.0 446.6,372.2 445.7,371.5 444.9,363.6 441.8,351.1 435.5,349.5 433.9,343.2 426.0,343.2 422.1,340.1 419.7,335.3 415.0,332.2 410.3,329.1 410.3,319.6 407.2,313.3 405.6,305.5 401.7,303.9 402.5,297.6 404.5,293.5 402.5,288.0 399.5,287.5 398.5,292.5 394.0,293.0 389.5,289.5 386.7,280.3 389.9,269.3 389.1,261.4 391.4,256.7 390.7,247.3 387.5,239.4 385.0,230.6 384.2,222.0 380.3,218.1 370.8,220.4 370.0,216.5 366.1,213.3 363.0,208.6 359.0,207.0 357.4,203.1 353.5,201.5 352.7,197.6 348.0,196.0 347.2,192.1 343.3,190.5 339.4,185.8 335.4,185.0 334.7,181.9 328.4,178.7 323.6,178.7 320.5,173.2 307.1,175.6 306.4,177.2 302.4,180.3 301.6,184.2 296.9,188.2 290.6,194.5 284.3,198.4 277.3,200.8 276.5,205.5 271.8,206.3 270.2,203.9 268.6,193.7 263.9,192.9 259.2,188.2 252.9,183.5 245.0,180.3 237.2,176.4 230.1,175.6 229.3,170.9 226.2,164.6 207.3,165.4 205.7,168.5 197.9,170.9 190.3,172.5 185.5,171.0 180.8,173.0 173.0,175.4 169.8,177.7 166.7,180.1 158.8,183.2 157.2,178.5 151.7,176.2 149.4,165.2 144.7,163.6 142.3,166.7 142.3,177.7 138.4,179.3 130.5,177.7 125.8,180.1 116.4,180.9 106.9,178.5 97.5,181.7 91.2,182.5 88.1,187.2 84.9,193.5 78.6,195.0 73.1,199.7 71.5,202.9 73.9,207.6 77.0,209.2 78.6,206.0 84.9,202.9 88.1,206.0 91.2,210.8 88.1,213.9 80.2,215.5 77.0,220.2 79.4,224.9 80.2,232.8 83.3,235.9 88.1,236.7 94.3,235.9 99.1,237.5 102.2,240.6 106.9,243.8 106.9,248.5 104.6,250.1 103.8,256.4 98.3,256.4 94.3,253.2 88.1,250.1 84.9,243.8 77.0,243.8 75.5,240.6 71.5,235.9 69.2,232.8 66.0,234.3 59.0,242.2 58.2,250.1 55.0,251.6 51.9,246.9 42.5,245.3 37.7,245.3 36.9,248.5 31.4,253.2 23.6,252.4 15.7,250.1 9.4,246.9 3.0,243.8" fill="none" stroke="#5f6e78" stroke-width="0.7" opacity="0.85"/>
<path d="M528,396 C527,410 520,425 505,436 S470,452 461,456" fill="none" stroke="#4e5c66" stroke-width="0.9" stroke-dasharray="5 3 2 3"/>
<path d="M446,458 l5,-1" stroke="#4e5c66" stroke-width="1" fill="none"/>
<path d="M84,190 C98,186 120,184 140,181" fill="none" stroke="#5f6e78" stroke-width="0.8" stroke-dasharray="6 4"/>
<path d="M100,190 C116,200 118,222 98,236" fill="none" stroke="#5f6e78" stroke-width="0.8" stroke-dasharray="6 3 1 3"/>
<path d="M23,258 C40,260 55,256 66,246" fill="none" stroke="#5f6e78" stroke-width="0.8" stroke-dasharray="5 3"/>
<path d="M570.3,321.5 L581.5,329.6 L583.2,324" fill="#e9eef0" stroke="#5f6e78" stroke-width="0.7"/>
<rect x="582.6" y="322.3" width="12.2" height="8" fill="#b3182e"/>
<path d="M586,322 L587.6,313.2 L590.5,317.5 L595.8,315.5 L595.8,322z" fill="#fbe7a0" stroke="#6d7a80" stroke-width="0.5"/>
<path d="M567.6,373.4 c-1.6,1 -1.6,3.4 0.4,4.4" stroke="#2c3238" stroke-width="1.3" fill="none"/><path d="M568,384.6 l2,1.6" stroke="#555" stroke-width="0.6"/>
<text x="9.9" y="42.1" font-size="10.9" fill="#3a0a14" fill-opacity="0.45" stroke="#3a0a14" stroke-opacity="0.3" stroke-width="1.2" textLength="110.9" lengthAdjust="spacing">MISSISSIPPI</text>
<text x="9.6" y="41.6" font-size="10.9" fill="#fff" stroke="#fff" stroke-width="0.45" textLength="110.9" lengthAdjust="spacing">MISSISSIPPI</text>
<text x="144.3" y="76.7" font-size="11.3" fill="#3a0a14" fill-opacity="0.45" stroke="#3a0a14" stroke-opacity="0.3" stroke-width="1.2" textLength="101.5" lengthAdjust="spacing">ALABAMA</text>
<text x="144" y="76.2" font-size="11.3" fill="#fff" stroke="#fff" stroke-width="0.45" textLength="101.5" lengthAdjust="spacing">ALABAMA</text>
<text x="297.3" y="87.9" font-size="12.0" fill="#3a0a14" fill-opacity="0.45" stroke="#3a0a14" stroke-opacity="0.3" stroke-width="1.2" textLength="97.5" lengthAdjust="spacing">GEORGIA</text>
<text x="297" y="87.4" font-size="12.0" fill="#fff" stroke="#fff" stroke-width="0.45" textLength="97.5" lengthAdjust="spacing">GEORGIA</text>
<text x="347.5" y="187.4" font-size="11.6" fill="#3a0a14" fill-opacity="0.45" stroke="#3a0a14" stroke-opacity="0.3" stroke-width="1.2" textLength="93.8" lengthAdjust="spacing">FLORIDA</text>
<text x="347.2" y="186.9" font-size="11.6" fill="#fff" stroke="#fff" stroke-width="0.45" textLength="93.8" lengthAdjust="spacing">FLORIDA</text>
<g stroke="#5e6b75" fill="none" stroke-linecap="round"><path d="M19.5,441.2 l2.9,7.4 l-2.9,-1.9 l-2.9,1.9z" fill="#5e6b75" stroke="none"/><path d="M13.6,459.8 c1.6,1 3.3,-0.2 3.6,-2.6 l0.5,-5.4 l5,8.4 l0.7,-8 c0.2,-1.3 1.1,-1.9 2.1,-1.4" stroke-width="1.25"/><path d="M13.4,453.6 c0.5,-1.7 2.5,-2.4 4,-1.6" stroke-width="1"/><rect x="29.4" y="458.9" width="46.8" height="1.8" fill="#5e6b75" stroke="none"/></g>
<text transform="translate(38.49,457.00) scale(0.0885,0.0783)" font-size="100" font-weight="normal" font-style="normal" fill="#56636d" xml:space="preserve" stroke="#56636d" stroke-width="2">100 km</text>
<text transform="translate(209.94,489.00) scale(0.1157,0.1143)" font-size="100" font-weight="bold" font-style="normal" fill="#222" xml:space="preserve" >Groundwater Wetness Percentile</text>
<rect x="178" y="493.1" width="19.2" height="8.9" fill="#7f0a2d"/>
<rect x="198.5" y="493.1" width="19.2" height="8.9" fill="#d7191c"/>
<rect x="219" y="493.1" width="19.2" height="8.9" fill="#f9803a"/>
<rect x="239.5" y="493.1" width="19.2" height="8.9" fill="#fdba5c"/>
<rect x="260" y="493.1" width="19.2" height="8.9" fill="#feeaa1"/>
<rect x="321.8" y="493.1" width="19.2" height="8.9" fill="#dde9f5"/>
<rect x="342.3" y="493.1" width="19.2" height="8.9" fill="#abcfe8"/>
<rect x="362.8" y="493.1" width="19.2" height="8.9" fill="#5aa2d3"/>
<rect x="383.4" y="493.1" width="19.2" height="8.9" fill="#1f6bb3"/>
<rect x="404" y="493.1" width="19.2" height="8.9" fill="#0b3278"/>
<text transform="translate(194.11,512.90) scale(0.1174,0.1157)" font-size="100" font-weight="normal" font-style="normal" fill="#222" xml:space="preserve" >2</text>
<text transform="translate(214.14,512.90) scale(0.1149,0.1174)" font-size="100" font-weight="normal" font-style="normal" fill="#222" xml:space="preserve" >5</text>
<text transform="translate(230.46,512.90) scale(0.1172,0.1157)" font-size="100" font-weight="normal" font-style="normal" fill="#222" xml:space="preserve" >10</text>
<text transform="translate(251.63,512.90) scale(0.1137,0.1157)" font-size="100" font-weight="normal" font-style="normal" fill="#222" xml:space="preserve" >20</text>
<text transform="translate(271.95,512.90) scale(0.1126,0.1157)" font-size="100" font-weight="normal" font-style="normal" fill="#222" xml:space="preserve" >30</text>
<text transform="translate(314.43,512.90) scale(0.1137,0.1157)" font-size="100" font-weight="normal" font-style="normal" fill="#222" xml:space="preserve" >70</text>
<text transform="translate(335.35,512.90) scale(0.1126,0.1157)" font-size="100" font-weight="normal" font-style="normal" fill="#222" xml:space="preserve" >80</text>
<text transform="translate(356.23,512.90) scale(0.1137,0.1157)" font-size="100" font-weight="normal" font-style="normal" fill="#222" xml:space="preserve" >90</text>
<text transform="translate(376.23,512.90) scale(0.1137,0.1157)" font-size="100" font-weight="normal" font-style="normal" fill="#222" xml:space="preserve" >95</text>
<text transform="translate(396.53,512.90) scale(0.1137,0.1157)" font-size="100" font-weight="normal" font-style="normal" fill="#222" xml:space="preserve" >98</text>
<rect x="2.75" y="2.75" width="596" height="522" fill="none" stroke="#000" stroke-width="3.5"/>
<rect x="749.4" y="216.9" width="347.8" height="222.6" fill="#fff" stroke="#111" stroke-width="1.3"/>
<line x1="1097.9" y1="217" x2="1097.9" y2="440.3" stroke="#111" stroke-width="1.6"/>
<line x1="749" y1="439.9" x2="1098.6" y2="439.9" stroke="#111" stroke-width="1.6"/>
<g font-family="Liberation Sans" font-weight="bold" font-size="100" fill="#000"><g transform="translate(756.60,303.30) scale(0.8000,0.8329)"><text x="-1.1">A</text><text x="1.1">A</text></g><g transform="translate(832.67,303.30) scale(0.7048,0.8449)"><text x="-1.1">B</text><text x="1.1">B</text></g><g transform="translate(904.66,303.45) scale(0.8119,0.8493)"><text x="-1.1">C</text><text x="1.1">C</text></g><g transform="translate(984.12,303.30) scale(0.8302,0.8449)"><text x="-1.1">D</text><text x="1.1">D</text></g><g transform="translate(760.81,409.00) scale(0.6810,0.8493)"><text x="-1.1">E</text><text x="1.1">E</text></g><g transform="translate(828.93,408.16) scale(0.7288,0.8371)"><text x="-1.1">F</text><text x="1.1">F</text></g><g transform="translate(893.22,409.15) scale(0.7929,0.8535)"><text x="-1.1">G</text><text x="1.1">G</text></g></g>
<rect x="4" y="552" width="1274" height="589" fill="#fff"/>
<filter id="sa" x="-1%" y="-1%" width="102%" height="102%"><feGaussianBlur stdDeviation="0.8 0.4"/></filter>
<filter id="sb" x="-1%" y="-1%" width="102%" height="102%"><feGaussianBlur stdDeviation="0.45"/></filter>
<clipPath id="plot"><rect x="72" y="619.6" width="1180" height="343.8"/></clipPath>
<g clip-path="url(#plot)">
<path d="M73.4,963.0 73.4,760.9 75.7,754.7 78.1,748.4 78.9,620.2 85.2,620.2 85.9,647.7 89.9,647.7 90.7,620.2 91.9,620.2 92.4,633.6 93.0,620.2 95.4,620.2 96.9,630.4 99.3,641.4 101.7,646.2 104.8,650.9 108.0,649.3 109.1,641.4 110.3,620.2 114.2,620.2 115.3,638.3 117.4,639.9 119.4,620.2 126.0,620.2 127.6,641.4 130.0,650.9 131.5,641.4 132.6,620.2 137.0,620.2 137.8,685.5 140.2,691.8 141.8,704.3 143.0,720.1 144.1,790.0 144.9,845.8 146.2,900.9 148.1,905.6 150.4,904.0 152.0,877.3 154.3,845.8 156.7,842.7 158.3,822.3 160.3,814.4 160.6,745.2 163.0,745.2 163.5,806.5 165.3,814.4 167.7,806.5 168.5,778.2 169.7,778.2 170.4,798.7 171.6,746.0 174.0,746.0 174.8,767.2 176.4,735.8 177.9,657.2 178.7,620.2 181.1,620.2 182.6,657.2 183.9,790.0 185.0,861.6 186.6,885.2 187.7,940.2 188.9,963.0ZM193.6,963.0 195.2,931.5 197.6,923.7 199.9,904.8 201.5,908.0 202.3,963.0ZM222.7,963.0 223.2,784.5 224.5,784.5 225.1,963.0ZM247.1,963.0 248.4,867.9 250.3,867.9 252.1,924.5 253.1,963.0ZM261.6,963.0 261.9,852.9 264.7,852.9 266.3,821.5 268.2,790.0 269.1,635.2 271.0,635.2 271.8,790.0 272.6,837.2 273.4,931.5 274.9,937.8 275.4,892.2 276.7,892.2 277.3,947.3 277.6,963.0ZM293.8,963.0 294.3,915.8 295.4,896.9 296.9,912.7 298.5,909.5 300.9,892.2 302.1,837.2 302.8,826.2 304.0,827.8 304.8,868.6 305.9,915.8 307.2,947.3 307.5,963.0ZM327.6,963.0 328.4,908.0 330.0,900.1 331.5,892.2 333.1,868.6 334.7,846.6 336.7,846.6 337.4,900.1 338.3,939.4 338.9,963.0ZM344.1,963.0 344.9,953.6 346.2,963.0ZM349.6,963.0 349.9,790.0 350.4,649.3 352.8,641.4 355.1,638.3 356.7,628.9 357.8,628.9 358.7,672.9 359.8,720.1 361.4,735.8 363.0,767.2 363.8,783.0 365.7,808.1 366.9,808.1 367.7,672.9 368.5,666.6 370.1,666.6 370.8,720.1 371.3,751.5 372.4,837.2 374.0,837.2 376.0,767.2 376.7,683.9 377.9,680.8 379.5,685.5 381.1,672.9 382.6,625.7 384.2,621.0 385.8,621.8 387.0,641.4 387.7,680.8 389.7,687.0 390.8,704.3 393.6,707.5 394.9,657.2 396.0,620.2 404.7,620.2 405.4,633.6 407.0,641.4 408.6,649.3 409.4,660.3 414.9,661.9 416.0,652.5 416.9,654.0 418.0,680.8 419.6,688.6 420.7,720.1 421.9,751.5 423.5,773.5 425.1,775.1 426.7,735.8 429.0,727.9 430.6,688.6 431.7,649.3 433.0,647.7 434.2,669.7 436.1,672.9 437.7,704.3 439.2,751.5 440.8,767.2 442.4,783.0 443.2,790.0 444.3,856.1 445.5,856.1 447.1,735.8 448.7,657.2 450.3,632.0 451.5,632.0 452.6,657.2 454.2,720.1 455.8,751.5 457.3,783.0 458.4,814.4 460.0,822.3 460.0,963.0ZM460.0,963.0 460.0,879.7 463.9,879.7 465.5,870.2 467.1,871.8 467.5,926.8 470.2,926.8 471.3,884.4 473.4,874.9 474.5,821.5 474.9,790.0 475.7,775.1 478.1,735.8 479.7,704.3 480.4,657.2 482.0,621.0 485.9,621.0 486.7,657.2 487.0,720.1 486.7,735.8 489.1,740.5 491.4,743.6 492.7,759.4 493.3,790.0 493.6,884.4 494.0,963.0ZM493.8,963.0 495.4,959.8 497.7,955.1 501.7,947.3 503.2,931.5 504.3,912.7 505.3,931.5 506.4,955.1 507.2,963.0ZM509.5,963.0 510.0,884.4 511.1,852.9 512.7,837.2 514.2,829.3 515.0,808.9 515.8,810.5 516.6,868.6 517.9,900.1 519.0,947.3 521.3,955.1 522.9,956.7 523.7,963.0ZM530.8,963.0 533.1,950.4 534.7,945.7 535.8,959.8 536.3,963.0ZM541.8,963.0 543.3,947.3 544.9,931.5 546.5,884.4 547.7,863.9 548.8,868.6 549.9,837.2 551.2,808.9 552.8,805.8 554.3,790.0 555.1,767.2 555.9,735.8 556.7,688.6 557.5,661.9 559.8,657.2 561.4,621.0 576.4,621.0 577.1,649.3 579.5,650.9 583.4,649.3 585.0,643.0 588.1,643.0 589.2,655.6 592.1,660.3 593.3,704.3 594.4,727.9 596.0,751.5 598.4,770.4 599.9,790.0 601.5,805.8 602.3,834.1 604.7,835.6 606.2,805.8 607.8,790.0 608.6,767.2 609.4,688.6 610.2,649.3 611.3,621.0 623.5,621.0 624.3,641.4 626.7,644.6 627.9,657.2 629.0,676.0 630.1,704.3 631.1,735.8 631.7,767.2 632.2,790.0 632.6,868.6 633.0,900.1 633.7,903.2 635.3,890.7 636.9,892.2 638.5,931.5 640.0,959.8 640.8,963.0ZM647.9,963.0 649.5,955.1 651.0,837.2 653.4,805.8 655.0,790.0 655.8,751.5 656.5,657.2 658.1,650.9 660.0,647.7 660.0,963.0ZM660.0,963.0 660.0,647.7 661.3,649.3 661.9,698.1 663.9,704.3 665.5,716.9 667.5,720.1 668.6,767.2 669.7,790.0 671.0,852.9 673.4,868.6 674.9,900.1 676.5,915.8 677.3,959.8 677.6,963.0ZM689.9,963.0 690.7,931.5 691.4,887.5 693.0,884.4 693.8,849.8 694.9,878.1 696.9,871.8 698.5,870.2 700.1,884.4 701.2,892.2 702.5,865.5 703.7,865.5 704.3,915.8 705.6,947.3 707.2,956.7 710.3,958.3 711.6,963.0ZM714.2,963.0 715.0,931.5 717.4,922.1 719.0,920.5 719.7,947.3 720.5,963.0ZM722.9,963.0 723.7,931.5 724.5,903.2 726.8,892.2 728.4,871.8 730.0,859.2 731.5,860.8 733.1,884.4 734.2,915.8 735.5,920.5 737.0,908.0 738.6,906.4 739.9,923.7 741.8,926.8 743.3,931.5 744.9,928.4 746.5,900.1 748.1,890.7 750.4,889.1 752.0,884.4 753.6,871.8 755.1,845.1 756.7,845.1 757.5,884.4 759.1,912.7 760.6,915.8 762.2,884.4 763.8,852.9 765.3,826.2 766.9,818.3 768.2,808.9 769.3,810.5 770.1,826.2 772.4,829.3 773.5,852.9 775.6,868.6 777.1,900.1 778.7,908.0 780.3,884.4 781.4,871.8 782.6,884.4 784.2,900.1 785.8,915.8 787.4,919.0 788.9,906.4 790.2,908.0 791.3,931.5 792.9,955.1 793.6,963.0ZM796.0,963.0 796.5,931.5 797.1,892.2 798.7,889.1 799.9,900.1 801.5,923.7 803.9,939.4 806.2,942.5 807.0,963.0ZM811.7,963.0 812.5,947.3 813.8,915.8 814.9,904.8 816.4,908.0 818.0,931.5 819.6,939.4 823.5,939.4 824.3,908.0 825.9,904.8 827.0,868.6 828.2,821.5 830.6,818.3 831.4,790.0 831.7,652.5 833.0,652.5 834.5,720.1 836.1,743.6 838.5,740.5 840.8,732.6 842.4,688.6 843.6,649.3 845.2,649.3 846.3,680.8 847.9,679.2 849.5,676.0 851.0,679.2 852.6,682.3 853.7,735.8 854.7,790.0 855.0,868.6 855.3,963.0ZM871.8,963.0 872.6,900.1 873.4,848.2 875.4,846.6 876.0,868.6 880.4,868.6 882.0,884.4 883.6,868.6 885.2,837.2 886.7,805.8 888.0,790.0 888.6,751.5 889.6,735.8 891.1,735.8 892.2,767.2 893.8,796.3 895.4,799.5 895.8,868.6 896.2,947.3 896.5,963.0ZM911.1,963.0 911.9,939.4 913.5,923.7 915.0,868.6 916.9,840.3 919.4,840.3 920.5,852.9 922.9,856.1 924.5,852.9 926.0,856.1 927.3,900.1 928.4,931.5 930.0,937.8 932.3,934.7 933.6,884.4 934.7,865.5 937.0,865.5 938.3,900.1 939.9,900.1 940.8,827.8 942.4,827.8 943.3,900.1 945.7,908.0 947.3,928.4 948.8,939.4 951.2,941.0 953.6,939.4 954.3,884.4 955.1,821.5 956.7,815.2 958.3,815.2 959.1,805.8 959.8,790.0 960.6,754.7 962.2,743.6 965.3,743.6 966.9,756.2 967.7,790.0 968.2,868.6 968.8,896.9 970.8,893.8 971.9,868.6 973.2,837.2 974.8,821.5 976.4,790.0 977.1,735.8 978.2,657.2 979.5,621.0 981.9,621.0 983.0,657.2 984.2,687.0 985.8,688.6 987.0,735.8 987.7,790.0 988.1,868.6 988.6,931.5 989.2,955.1 990.5,963.0ZM991.3,963.0 992.1,939.4 993.3,934.7 994.0,926.8 995.2,936.3 996.5,925.3 997.6,939.4 998.7,955.1 999.2,963.0ZM1007.0,963.0 1008.6,955.1 1010.2,931.5 1011.3,909.5 1012.2,923.7 1014.1,922.1 1015.7,900.1 1016.3,845.1 1016.6,790.0 1016.9,754.7 1017.9,754.7 1018.2,790.0 1018.8,843.5 1020.4,837.2 1021.9,805.8 1023.5,796.3 1025.1,796.3 1026.4,837.2 1027.5,884.4 1029.0,908.0 1030.6,900.1 1031.4,837.2 1032.2,791.6 1033.7,791.6 1034.5,852.9 1035.3,915.8 1036.1,947.3 1037.7,959.8 1038.5,963.0ZM1047.9,963.0 1048.7,931.5 1050.3,908.0 1052.6,906.4 1054.2,923.7 1055.8,900.1 1057.3,884.4 1058.9,860.8 1060.0,856.1 1060.0,963.0ZM1060.0,963.0 1060.0,852.9 1061.6,821.5 1063.1,790.0 1063.9,751.5 1064.7,688.6 1065.5,660.3 1066.6,660.3 1067.5,720.1 1068.6,767.2 1069.4,790.0 1071.0,821.5 1073.4,837.2 1074.9,852.9 1076.5,884.4 1078.9,892.2 1079.7,884.4 1080.4,915.8 1082.0,931.5 1083.6,934.7 1085.2,915.8 1086.7,900.1 1088.0,892.2 1089.1,900.1 1090.7,884.4 1092.2,868.6 1093.8,845.1 1095.4,837.2 1097.7,829.3 1100.1,821.5 1102.5,813.6 1104.0,790.0 1105.6,735.8 1107.2,704.3 1108.7,672.9 1110.3,657.2 1111.1,644.6 1112.7,657.2 1114.2,665.0 1115.8,688.6 1116.9,735.8 1118.5,751.5 1119.7,790.0 1120.5,837.2 1121.6,900.1 1123.7,908.0 1126.0,915.8 1128.4,884.4 1130.0,856.1 1132.3,852.9 1134.7,849.8 1136.3,835.6 1137.8,837.2 1139.4,849.8 1140.5,790.0 1140.8,787.7 1141.8,787.7 1142.1,837.2 1143.3,884.4 1144.9,915.8 1147.3,939.4 1149.6,947.3 1152.8,953.6 1155.9,953.6 1158.3,947.3 1159.8,931.5 1161.4,900.1 1163.0,868.6 1164.6,821.5 1165.7,790.0 1166.6,760.9 1168.2,735.8 1169.3,735.8 1170.1,760.9 1170.8,790.0 1171.9,821.5 1173.2,860.8 1175.6,884.4 1177.1,887.5 1178.7,900.1 1180.3,939.4 1181.9,944.1 1183.4,900.1 1185.0,852.9 1186.6,790.0 1187.4,767.2 1188.1,688.6 1189.2,625.7 1190.8,622.6 1192.1,649.3 1193.6,657.2 1194.9,680.8 1196.5,698.1 1198.1,699.6 1199.2,735.8 1200.7,759.4 1202.3,767.2 1203.9,759.4 1204.7,720.1 1205.4,657.2 1206.2,622.6 1207.5,622.6 1208.1,657.2 1209.4,696.5 1210.9,735.8 1212.5,767.2 1214.9,783.0 1216.4,805.8 1218.0,821.5 1219.6,824.6 1221.2,821.5 1222.7,797.9 1223.5,790.0 1224.3,767.2 1226.7,759.4 1229.0,720.1 1230.6,688.6 1232.2,665.0 1233.7,657.2 1235.3,625.7 1236.9,620.2 1248.4,620.2 1248.7,963.0Z" fill="#ffff00" filter="url(#sa)"/>
<path d="M74.9,963.0 75.7,877.3 78.1,814.4 79.7,751.5 81.2,704.3 83.6,683.9 85.9,680.8 89.1,676.0 91.4,672.9 93.8,672.9 96.2,676.0 97.7,704.3 99.3,720.1 101.2,735.8 103.2,751.5 104.8,767.2 106.7,779.8 108.7,767.2 111.9,720.1 114.2,704.3 115.8,680.8 117.4,672.9 119.0,676.0 120.5,657.2 122.9,654.0 124.5,655.6 126.0,672.9 129.2,680.8 131.5,677.6 133.9,672.9 135.5,657.2 137.0,688.6 138.6,691.8 140.2,704.3 141.8,751.5 143.0,790.0 144.1,884.4 145.7,963.0ZM179.5,963.0 181.9,877.3 184.2,865.5 185.8,877.3 187.7,940.2 188.6,963.0ZM352.8,963.0 354.3,931.5 356.7,884.4 358.3,845.1 359.8,845.1 360.9,884.4 363.0,893.0 366.9,889.9 370.1,877.3 373.2,861.6 375.6,830.1 377.1,798.7 379.5,792.4 385.8,790.8 393.6,790.8 396.8,790.0 397.6,735.8 399.2,688.6 400.7,657.2 402.3,641.4 403.9,638.3 405.4,641.4 407.0,649.3 408.6,704.3 410.2,707.5 411.7,720.1 413.3,735.8 415.7,751.5 417.2,767.2 418.8,790.0 420.4,814.4 421.9,861.6 423.5,885.2 425.9,877.3 428.2,869.4 430.6,845.8 433.0,838.0 434.5,830.1 436.9,845.8 439.2,861.6 442.4,877.3 444.7,893.0 446.3,900.9 447.9,893.0 451.0,885.2 453.4,877.3 456.5,869.4 460.0,861.6 460.0,963.0ZM472.6,963.0 474.2,947.3 477.3,931.5 479.7,915.8 481.2,868.6 483.6,805.8 484.4,790.0 485.2,751.5 486.7,738.9 489.1,740.5 491.4,748.4 492.7,767.2 493.0,790.0 493.3,837.2 493.8,963.0ZM554.3,963.0 555.9,900.1 557.5,852.9 559.1,805.8 560.6,790.0 561.4,751.5 562.2,704.3 563.0,680.8 564.6,672.9 566.9,669.7 570.1,665.0 572.4,657.2 574.0,654.0 575.6,652.5 576.4,688.6 577.1,720.1 578.7,720.1 579.8,688.6 581.9,672.9 584.2,665.0 585.8,661.9 587.4,665.0 588.9,688.6 590.5,720.1 592.1,751.5 593.6,767.2 594.9,790.0 596.0,821.5 597.6,860.8 599.9,871.8 604.7,873.4 607.8,868.6 609.1,821.5 609.4,790.0 610.9,735.8 612.5,688.6 614.9,657.2 617.2,641.4 619.6,630.4 621.9,625.7 623.5,624.2 624.3,641.4 626.7,644.6 627.9,657.2 629.0,676.0 630.1,704.3 631.1,735.8 631.7,767.2 632.2,790.0 632.5,884.4 633.0,963.0ZM651.0,963.0 652.6,947.3 655.0,944.1 657.3,941.0 660.0,940.2 660.0,963.0ZM660.0,963.0 660.0,940.2 661.3,924.5 661.9,812.8 665.5,812.8 667.9,822.3 669.4,845.8 671.0,877.3 672.6,908.7 674.9,924.5 676.5,940.2 677.3,963.0ZM725.3,963.0 727.6,947.3 730.8,941.0 733.9,947.3 737.0,953.6 740.2,959.8 741.8,963.0ZM748.1,963.0 750.4,947.3 752.8,939.4 755.1,931.5 756.7,939.4 758.3,955.1 759.1,963.0ZM760.6,963.0 762.2,947.3 763.8,931.5 766.1,915.8 768.5,908.0 771.6,908.0 774.0,915.8 776.4,931.5 778.7,939.4 781.1,947.3 783.4,955.1 785.8,963.0ZM823.5,963.0 824.3,908.0 825.9,904.8 827.0,931.5 829.0,939.4 830.6,963.0ZM839.2,963.0 840.8,931.5 842.4,884.4 844.7,837.2 847.1,797.9 847.9,790.0 848.7,738.9 852.6,738.9 853.7,767.2 854.7,790.0 855.0,868.6 855.3,963.0ZM873.4,963.0 874.9,947.3 877.3,915.8 879.2,887.5 881.2,885.9 882.8,900.1 884.4,931.5 885.9,947.3 887.5,931.5 889.1,900.1 890.7,876.5 892.2,871.8 893.8,884.4 894.9,931.5 895.8,955.1 896.2,963.0ZM914.2,963.0 915.8,947.3 918.2,915.8 920.5,884.4 922.9,860.8 924.5,856.1 925.7,868.6 926.8,915.8 928.4,947.3 930.0,963.0ZM933.9,963.0 935.2,947.3 936.3,931.5 937.4,947.3 938.6,963.0ZM954.3,963.0 955.1,915.8 956.7,868.6 958.3,852.9 959.8,868.6 961.4,900.1 963.8,915.8 966.1,923.7 968.5,939.4 970.8,947.3 973.2,931.5 975.6,868.6 977.1,821.5 978.7,790.0 979.5,732.6 981.1,732.6 982.3,790.0 983.4,837.2 985.0,900.1 986.6,947.3 988.1,963.0ZM1023.5,963.0 1025.1,955.1 1029.0,947.3 1032.2,950.4 1035.3,959.8 1036.9,963.0ZM1060.0,963.0 1060.0,915.8 1062.4,892.2 1064.7,884.4 1067.1,887.5 1069.4,915.8 1071.8,947.3 1074.2,956.7 1075.7,963.0ZM1092.2,963.0 1093.3,884.4 1095.4,852.9 1097.7,845.1 1099.3,837.2 1100.9,829.3 1103.2,821.5 1105.6,805.8 1108.0,790.0 1109.5,767.2 1111.1,743.6 1112.7,735.8 1114.2,740.5 1115.8,751.5 1117.4,767.2 1119.0,790.0 1120.1,837.2 1121.3,900.1 1122.9,947.3 1124.5,955.1 1126.0,947.3 1127.6,931.5 1130.0,900.1 1132.3,915.8 1134.7,900.1 1137.0,892.2 1139.4,900.1 1141.8,908.0 1144.1,931.5 1146.5,955.1 1148.1,963.0ZM1160.6,963.0 1162.2,931.5 1164.6,900.1 1166.1,884.4 1167.7,892.2 1170.1,915.8 1172.4,939.4 1174.8,931.5 1177.1,892.2 1178.2,884.4 1179.5,915.8 1181.1,947.3 1183.4,931.5 1185.8,900.1 1188.1,884.4 1190.5,876.5 1192.9,868.6 1195.2,860.8 1197.6,852.9 1199.9,837.2 1202.3,821.5 1204.7,805.8 1206.2,797.9 1208.6,813.6 1210.9,837.2 1213.3,845.1 1215.7,852.9 1218.0,860.8 1220.4,857.6 1222.7,845.1 1225.1,837.2 1227.5,821.5 1229.8,805.8 1232.2,790.0 1233.7,767.2 1235.3,735.8 1236.9,704.3 1238.5,672.9 1240.8,641.4 1243.2,628.9 1245.5,622.6 1248.4,621.0 1248.7,963.0Z" fill="#fcd37f" filter="url(#sa)"/>
<path d="M73.4,963.0 73.5,919.0 79.7,919.0 81.2,805.8 83.6,790.0 84.4,732.6 87.5,731.1 88.3,704.3 90.7,702.8 92.2,687.0 93.3,687.0 94.3,702.8 95.8,704.3 96.9,729.5 98.5,751.5 100.1,767.2 101.7,776.7 104.0,781.4 105.6,786.1 106.2,963.0 108.1,963.0 108.7,786.1 110.3,773.5 112.7,751.5 114.2,720.1 115.3,704.3 116.3,707.5 117.4,735.8 119.0,743.6 120.5,735.8 122.1,720.1 123.7,705.9 125.3,704.3 135.5,704.3 137.0,705.9 138.6,748.4 140.2,767.2 141.8,790.0 142.5,837.2 143.3,947.3 144.1,963.0ZM179.5,963.0 180.3,929.2 182.6,927.6 185.0,940.2 186.6,963.0ZM363.0,963.0 363.8,933.9 366.1,918.2 367.2,915.8 368.5,932.3 370.8,948.1 371.3,963.0ZM381.9,963.0 382.6,936.3 384.2,923.7 385.8,926.8 388.1,912.7 389.2,908.0 390.2,947.3 392.1,963.0ZM394.4,963.0 396.0,931.5 398.4,868.6 399.9,790.0 400.7,748.4 403.1,746.8 403.9,735.8 404.7,737.4 405.4,790.0 407.0,837.2 409.4,852.9 411.7,856.1 413.3,868.6 414.9,863.9 416.4,884.4 418.8,890.7 420.7,878.1 421.9,931.5 423.5,963.0ZM426.7,963.0 427.9,900.1 429.0,896.9 434.5,896.9 436.1,890.7 438.5,898.5 440.8,931.5 442.1,963.0ZM446.3,963.0 447.9,939.4 449.5,931.5 451.0,939.4 453.4,959.8 454.2,963.0ZM481.2,963.0 482.0,931.5 483.6,884.4 485.2,837.2 486.7,821.5 488.3,813.6 489.9,797.9 490.7,797.9 491.4,813.6 492.2,852.9 493.0,915.8 493.3,963.0ZM556.7,963.0 558.3,915.8 559.8,852.9 561.4,805.8 563.0,790.0 565.0,790.0 565.7,756.2 566.9,757.8 567.7,790.0 568.5,794.7 570.1,799.5 571.9,793.2 572.4,790.0 573.2,770.4 574.8,771.9 575.6,790.0 576.4,797.9 577.1,821.5 579.2,821.5 579.8,797.9 581.1,790.0 581.9,790.0 584.2,767.2 585.8,738.9 587.4,735.8 588.1,751.5 589.2,790.0 593.6,805.8 594.9,845.1 596.0,871.8 596.8,900.1 598.4,906.4 600.7,903.2 603.1,898.5 605.4,892.2 607.8,903.2 609.4,909.5 610.6,868.6 611.7,821.5 613.3,797.9 614.9,790.0 620.4,790.0 621.9,751.5 623.5,720.1 624.8,682.3 626.4,682.3 627.5,720.1 628.6,751.5 629.8,790.0 630.1,868.6 630.6,947.3 631.1,963.0ZM654.2,963.0 655.8,953.6 658.1,948.8 660.0,947.3 660.0,963.0ZM660.0,963.0 660.0,947.3 661.6,939.4 663.1,926.8 664.7,936.3 667.1,941.0 669.4,947.3 671.8,950.4 673.4,959.8 673.8,963.0ZM765.3,963.0 766.9,947.3 768.5,937.8 770.1,936.3 772.4,941.0 774.0,950.4 775.6,963.0ZM828.2,963.0 828.6,937.8 830.1,937.8 830.6,963.0ZM844.0,963.0 845.5,915.8 847.1,852.9 848.7,830.9 851.0,829.3 852.6,837.2 853.4,900.1 854.2,963.0ZM879.7,963.0 880.4,931.5 881.2,903.2 882.3,903.2 883.3,947.3 883.9,963.0ZM889.9,963.0 890.7,955.1 892.2,941.0 893.8,939.4 894.9,955.1 895.8,963.0ZM955.9,963.0 956.7,947.3 957.8,920.5 959.4,919.0 960.3,947.3 961.4,963.0ZM976.4,963.0 978.7,958.3 981.1,947.3 982.6,939.4 984.2,934.7 985.5,947.3 986.6,963.0ZM1068.6,963.0 1070.2,953.6 1071.8,950.4 1073.4,956.7 1074.9,963.0ZM1093.0,963.0 1094.6,947.3 1096.2,915.8 1098.5,896.9 1100.6,889.1 1102.5,900.1 1104.0,915.8 1105.6,947.3 1107.2,955.1 1110.3,900.1 1111.9,852.9 1113.5,813.6 1114.7,805.8 1115.8,837.2 1116.9,884.4 1118.2,915.8 1119.4,923.7 1120.5,947.3 1121.3,963.0ZM1125.3,963.0 1126.8,955.1 1129.2,950.4 1131.5,955.1 1133.9,947.3 1136.3,939.4 1138.6,928.4 1140.2,923.7 1141.8,923.7 1143.3,939.4 1145.7,955.1 1147.3,963.0ZM1196.8,963.0 1198.4,955.1 1200.7,931.5 1203.1,900.1 1204.7,868.6 1206.2,856.1 1207.8,857.6 1209.4,865.5 1210.9,884.4 1212.5,915.8 1214.9,931.5 1217.2,934.7 1219.6,947.3 1221.9,955.1 1224.3,939.4 1226.7,915.8 1229.0,884.4 1230.6,868.6 1232.2,862.4 1233.7,868.6 1235.3,900.1 1236.9,931.5 1238.5,900.1 1240.0,837.2 1240.8,805.8 1241.6,790.0 1242.4,751.5 1244.0,688.6 1245.5,657.2 1247.1,650.9 1248.4,650.9 1248.7,963.0Z" fill="#ffaa00" filter="url(#sb)"/>
<path d="M89.6,963.0 90.7,821.5 92.2,793.2 93.3,776.7 94.9,799.5 96.9,829.3 99.3,852.9 101.2,856.1 102.1,868.6 103.2,892.2 104.8,915.8 106.4,947.3 107.2,963.0 108.0,963.0 109.1,900.1 110.0,865.5 111.1,863.9 112.7,873.4 114.2,852.9 116.6,824.6 119.0,821.5 120.5,804.2 122.1,808.9 122.9,790.0 123.7,746.8 126.0,751.5 127.6,771.9 130.0,771.9 131.5,751.5 134.7,745.2 136.3,748.4 137.0,805.8 138.6,837.2 140.2,868.6 141.4,915.8 142.5,947.3 143.0,963.0ZM363.8,963.0 364.6,934.7 367.7,933.1 368.8,947.3 370.5,947.3 371.0,963.0ZM399.6,963.0 400.3,915.8 401.5,876.5 402.8,859.2 404.3,857.6 405.4,900.1 407.0,923.7 408.1,939.4 409.4,959.8 411.3,963.0ZM413.3,963.0 413.8,931.5 414.9,914.2 415.7,915.8 416.4,933.1 418.0,932.3 421.2,933.1 421.9,963.0ZM427.9,963.0 428.2,955.1 433.0,954.3 439.2,953.6 440.5,956.7 440.8,963.0ZM488.0,963.0 488.6,947.3 489.9,931.5 491.1,925.3 492.2,947.3 493.0,963.0ZM555.1,963.0 556.7,956.7 558.3,947.3 559.8,956.7 561.4,915.8 563.0,900.1 565.0,892.2 566.6,873.4 567.7,884.4 568.8,912.7 570.1,926.8 571.3,923.7 572.4,912.7 574.0,909.5 575.1,892.2 576.0,909.5 577.9,911.1 579.8,908.0 581.1,892.2 582.3,863.9 583.6,840.3 584.7,821.5 585.8,813.6 587.7,813.6 588.5,837.2 589.2,868.6 590.5,884.4 591.8,900.1 592.9,931.5 593.6,956.7 594.9,956.7 595.5,939.4 596.8,936.3 599.2,931.5 601.5,933.1 603.9,936.3 606.2,934.7 607.8,947.3 609.4,955.1 610.6,955.1 611.3,931.5 612.5,915.8 613.8,884.4 614.9,878.1 616.0,884.4 617.2,912.7 618.8,911.1 620.4,884.4 621.9,856.1 623.5,845.1 625.1,824.6 626.7,813.6 627.9,808.9 628.6,837.2 629.5,900.1 630.6,947.3 631.4,963.0ZM766.9,963.0 768.5,959.8 770.8,956.7 772.4,947.3 773.5,947.3 774.8,959.8 775.6,963.0ZM847.9,963.0 848.7,947.3 849.5,912.7 851.8,911.1 853.1,947.3 853.7,963.0ZM956.7,963.0 957.8,959.1 959.4,959.1 960.3,963.0ZM1111.9,963.0 1112.7,950.4 1114.2,947.3 1115.8,944.1 1117.4,931.5 1118.5,915.8 1119.7,931.5 1120.5,963.0ZM1126.8,963.0 1129.2,960.6 1135.5,959.8 1138.6,958.3 1139.4,939.4 1140.5,934.7 1141.8,939.4 1142.5,958.3 1145.7,959.8 1147.3,963.0ZM1203.9,963.0 1205.0,947.3 1206.2,906.4 1207.8,904.8 1209.4,931.5 1210.9,947.3 1212.2,959.8 1217.2,960.6 1218.8,963.0ZM1225.9,963.0 1227.5,955.1 1229.0,931.5 1230.6,915.8 1232.2,893.8 1233.3,892.2 1234.2,915.8 1234.8,947.3 1236.9,952.0 1238.5,947.3 1240.0,900.1 1240.8,852.9 1241.6,821.5 1242.4,790.0 1243.2,751.5 1244.7,720.1 1246.3,713.8 1248.4,712.2 1248.7,963.0Z" fill="#e60000" filter="url(#sb)"/>
<path d="M89.6,963.0 90.2,918.2 91.4,909.5 95.4,907.2 100.1,908.7 102.5,910.6 104.0,918.2 105.1,963.0ZM108.0,963.0 109.5,947.3 111.9,931.5 114.2,915.8 115.8,903.2 118.2,900.1 121.3,898.5 123.7,852.9 125.3,834.1 126.8,835.6 128.4,868.6 129.2,900.1 130.0,914.2 132.3,915.8 135.5,920.5 137.8,931.5 139.4,947.3 141.8,955.1 142.1,963.0ZM585.0,963.0 585.3,915.8 585.6,852.9 586.1,798.5 587.7,798.5 588.1,852.9 588.8,915.8 589.4,963.0ZM620.4,963.0 621.9,931.5 623.5,923.7 625.1,919.0 626.7,915.8 627.9,931.5 629.5,955.1 630.6,963.0Z" fill="#730000" filter="url(#sb)"/>
</g>
<text transform="translate(14.66,589.00) scale(0.2491,0.2130)" font-size="100" font-weight="bold" font-style="normal" fill="#1f1f1f" xml:space="preserve" >Percent of Florida in U.S. Drought Monitor Categories</text>
<text transform="translate(15.66,627.70) scale(0.2426,0.2414)" font-size="100" font-weight="normal" font-style="normal" fill="#2a2a2a" xml:space="preserve" >100</text>
<rect x="65.6" y="619.3" width="4.2" height="1.6" fill="#444"/>
<text transform="translate(25.28,695.30) scale(0.2544,0.2386)" font-size="100" font-weight="normal" font-style="normal" fill="#2a2a2a" xml:space="preserve" >80</text>
<rect x="65.6" y="687.9" width="4.2" height="1.6" fill="#444"/>
<text transform="translate(25.02,764.20) scale(0.2569,0.2400)" font-size="100" font-weight="normal" font-style="normal" fill="#2a2a2a" xml:space="preserve" >60</text>
<rect x="65.6" y="756.4" width="4.2" height="1.6" fill="#444"/>
<text transform="translate(25.81,832.90) scale(0.2467,0.2386)" font-size="100" font-weight="normal" font-style="normal" fill="#2a2a2a" xml:space="preserve" >40</text>
<rect x="65.6" y="825.0" width="4.2" height="1.6" fill="#444"/>
<text transform="translate(24.33,901.70) scale(0.2539,0.2386)" font-size="100" font-weight="normal" font-style="normal" fill="#2a2a2a" xml:space="preserve" >20</text>
<rect x="65.6" y="893.8" width="4.2" height="1.6" fill="#444"/>
<text transform="translate(35.93,970.80) scale(0.2667,0.2400)" font-size="100" font-weight="normal" font-style="normal" fill="#2a2a2a" xml:space="preserve" >0</text>
<rect x="65.6" y="962.5" width="4.2" height="1.6" fill="#444"/>
<rect x="72.2" y="620" width="0.9" height="344" fill="#e3e8f0"/>
<text transform="translate(44.84,997.00) scale(0.2516,0.2286)" font-size="100" font-weight="normal" font-style="normal" fill="#2a2a2a" xml:space="preserve" >2000</text>
<text transform="translate(139.34,997.00) scale(0.2528,0.2286)" font-size="100" font-weight="normal" font-style="normal" fill="#2a2a2a" xml:space="preserve" >2002</text>
<text transform="translate(223.05,997.00) scale(0.2505,0.2286)" font-size="100" font-weight="normal" font-style="normal" fill="#2a2a2a" xml:space="preserve" >2004</text>
<text transform="translate(316.84,997.00) scale(0.2516,0.2286)" font-size="100" font-weight="normal" font-style="normal" fill="#2a2a2a" xml:space="preserve" >2006</text>
<text transform="translate(405.94,997.00) scale(0.2516,0.2286)" font-size="100" font-weight="normal" font-style="normal" fill="#2a2a2a" xml:space="preserve" >2008</text>
<text transform="translate(495.34,997.00) scale(0.2516,0.2286)" font-size="100" font-weight="normal" font-style="normal" fill="#2a2a2a" xml:space="preserve" >2010</text>
<text transform="translate(581.14,997.00) scale(0.2528,0.2286)" font-size="100" font-weight="normal" font-style="normal" fill="#2a2a2a" xml:space="preserve" >2012</text>
<text transform="translate(674.55,997.00) scale(0.2505,0.2286)" font-size="100" font-weight="normal" font-style="normal" fill="#2a2a2a" xml:space="preserve" >2014</text>
<text transform="translate(759.94,997.00) scale(0.2516,0.2286)" font-size="100" font-weight="normal" font-style="normal" fill="#2a2a2a" xml:space="preserve" >2016</text>
<text transform="translate(854.34,997.00) scale(0.2516,0.2286)" font-size="100" font-weight="normal" font-style="normal" fill="#2a2a2a" xml:space="preserve" >2018</text>
<text transform="translate(940.84,997.00) scale(0.2516,0.2286)" font-size="100" font-weight="normal" font-style="normal" fill="#2a2a2a" xml:space="preserve" >2020</text>
<text transform="translate(1029.94,997.00) scale(0.2528,0.2286)" font-size="100" font-weight="normal" font-style="normal" fill="#2a2a2a" xml:space="preserve" >2022</text>
<text transform="translate(1120.05,997.00) scale(0.2505,0.2286)" font-size="100" font-weight="normal" font-style="normal" fill="#2a2a2a" xml:space="preserve" >2024</text>
<text transform="translate(1204.94,997.00) scale(0.2516,0.2286)" font-size="100" font-weight="normal" font-style="normal" fill="#2a2a2a" xml:space="preserve" >2026</text>
<rect x="72.9" y="963.6" width="1.4" height="4" fill="#555"/>
<rect x="119.1" y="963.6" width="1.4" height="4" fill="#555"/>
<rect x="167.7" y="963.6" width="1.4" height="4" fill="#555"/>
<rect x="210.9" y="963.6" width="1.4" height="4" fill="#555"/>
<rect x="251.4" y="963.6" width="1.4" height="4" fill="#555"/>
<rect x="298.3" y="963.6" width="1.4" height="4" fill="#555"/>
<rect x="345.2" y="963.6" width="1.4" height="4" fill="#555"/>
<rect x="388.7" y="963.6" width="1.4" height="4" fill="#555"/>
<rect x="432.8" y="963.6" width="1.4" height="4" fill="#555"/>
<rect x="477.9" y="963.6" width="1.4" height="4" fill="#555"/>
<rect x="524.1" y="963.6" width="1.4" height="4" fill="#555"/>
<rect x="567.6" y="963.6" width="1.4" height="4" fill="#555"/>
<rect x="610.1" y="963.6" width="1.4" height="4" fill="#555"/>
<rect x="657.0" y="963.6" width="1.4" height="4" fill="#555"/>
<rect x="702.2" y="963.6" width="1.4" height="4" fill="#555"/>
<rect x="747.4" y="963.6" width="1.4" height="4" fill="#555"/>
<rect x="789.3" y="963.6" width="1.4" height="4" fill="#555"/>
<rect x="835.5" y="963.6" width="1.4" height="4" fill="#555"/>
<rect x="882.2" y="963.6" width="1.4" height="4" fill="#555"/>
<rect x="928.0" y="963.6" width="1.4" height="4" fill="#555"/>
<rect x="969.2" y="963.6" width="1.4" height="4" fill="#555"/>
<rect x="1012.8" y="963.6" width="1.4" height="4" fill="#555"/>
<rect x="1058.7" y="963.6" width="1.4" height="4" fill="#555"/>
<rect x="1105.5" y="963.6" width="1.4" height="4" fill="#555"/>
<rect x="1147.4" y="963.6" width="1.4" height="4" fill="#555"/>
<rect x="1193.6" y="963.6" width="1.4" height="4" fill="#555"/>
<rect x="1237.2" y="963.6" width="1.4" height="4" fill="#555"/>
<text transform="translate(549.77,1034.40) scale(0.2470,0.2116)" font-size="100" font-weight="bold" font-style="normal" fill="#1f1f1f" xml:space="preserve" >Drought Intensity</text>
<rect x="362.1" y="1051.3" width="79.7" height="18.2" fill="#ffff00"/>
<rect x="494.5" y="1051.3" width="78.5" height="18.2" fill="#fcd37f"/>
<rect x="619.3" y="1051.3" width="79.2" height="18.2" fill="#ffaa00"/>
<rect x="736.5" y="1051.3" width="79.1" height="18.2" fill="#e60000"/>
<rect x="857.0" y="1051.3" width="79.0" height="18.2" fill="#730000"/>
<text transform="translate(339.80,1096.10) scale(0.2502,0.2348)" font-size="100" font-weight="normal" font-style="normal" fill="#2a2a2a" xml:space="preserve" >Abnormally</text>
<text transform="translate(382.50,1126.20) scale(0.2497,0.2246)" font-size="100" font-weight="normal" font-style="normal" fill="#2a2a2a" xml:space="preserve" >Dry</text>
<text transform="translate(478.99,1096.10) scale(0.2634,0.2391)" font-size="100" font-weight="normal" font-style="normal" fill="#2a2a2a" xml:space="preserve" >Moderate</text>
<text transform="translate(487.81,1126.20) scale(0.2614,0.2290)" font-size="100" font-weight="normal" font-style="normal" fill="#2a2a2a" xml:space="preserve" >Drought</text>
<text transform="translate(618.21,1098.80) scale(0.2381,0.2329)" font-size="100" font-weight="normal" font-style="normal" fill="#2a2a2a" xml:space="preserve" >Severe</text>
<text transform="translate(609.21,1128.90) scale(0.2617,0.2232)" font-size="100" font-weight="normal" font-style="normal" fill="#2a2a2a" xml:space="preserve" >Drought</text>
<text transform="translate(725.98,1097.50) scale(0.2528,0.2362)" font-size="100" font-weight="normal" font-style="normal" fill="#2a2a2a" xml:space="preserve" >Extreme</text>
<text transform="translate(725.91,1127.20) scale(0.2611,0.2232)" font-size="100" font-weight="normal" font-style="normal" fill="#2a2a2a" xml:space="preserve" >Drought</text>
<text transform="translate(829.46,1098.80) scale(0.2556,0.2362)" font-size="100" font-weight="normal" font-style="normal" fill="#2a2a2a" xml:space="preserve" >Exceptional</text>
<text transform="translate(847.92,1130.70) scale(0.2602,0.2275)" font-size="100" font-weight="normal" font-style="normal" fill="#2a2a2a" xml:space="preserve" >Drought</text>
<rect x="2.7" y="549.9" width="1277" height="592.3" fill="none" stroke="#000" stroke-width="3.8"/>
<rect x="0" y="1144.4" width="1284" height="0.6" fill="#999"/>
</svg>
</body></html>
